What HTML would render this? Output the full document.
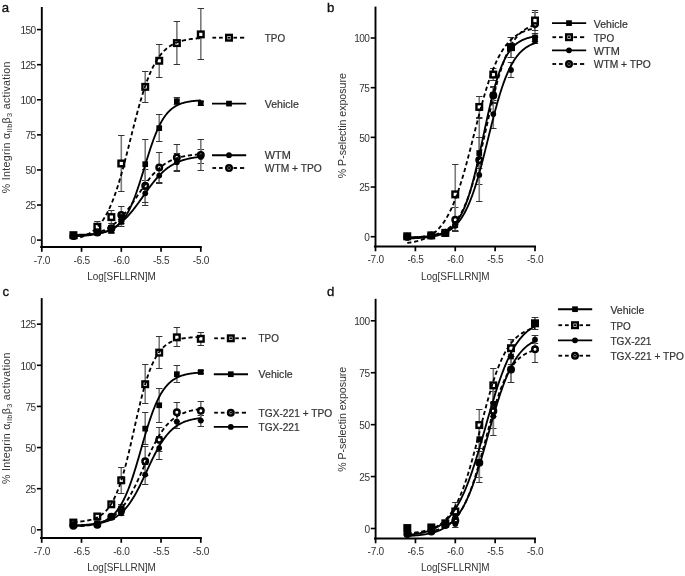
<!DOCTYPE html>
<html><head><meta charset="utf-8"><style>
html,body{margin:0;padding:0;background:#fff;}
svg{display:block;will-change:transform;}
text{font-family:"Liberation Sans", sans-serif;}
</style></head><body>
<svg width="685" height="576" viewBox="0 0 685 576">
<rect width="685" height="576" fill="#fff"/>
<line x1="41.8" y1="7" x2="41.8" y2="247.9" stroke="#000" stroke-width="1.9"/>
<line x1="40.2" y1="247" x2="201.8" y2="247" stroke="#000" stroke-width="1.9"/>
<line x1="37" y1="240.1" x2="41.8" y2="240.1" stroke="#000" stroke-width="1.6"/>
<text x="36.2" y="244.3" font-size="10.1" fill="#333333" text-anchor="end" textLength="5.62" lengthAdjust="spacing">0</text>
<line x1="37" y1="205.02" x2="41.8" y2="205.02" stroke="#000" stroke-width="1.6"/>
<text x="36.2" y="209.22" font-size="10.1" fill="#333333" text-anchor="end" textLength="10.63" lengthAdjust="spacing">25</text>
<line x1="37" y1="169.94" x2="41.8" y2="169.94" stroke="#000" stroke-width="1.6"/>
<text x="36.2" y="174.13" font-size="10.1" fill="#333333" text-anchor="end" textLength="10.63" lengthAdjust="spacing">50</text>
<line x1="37" y1="134.85" x2="41.8" y2="134.85" stroke="#000" stroke-width="1.6"/>
<text x="36.2" y="139.05" font-size="10.1" fill="#333333" text-anchor="end" textLength="10.63" lengthAdjust="spacing">75</text>
<line x1="37" y1="99.77" x2="41.8" y2="99.77" stroke="#000" stroke-width="1.6"/>
<text x="36.2" y="103.97" font-size="10.1" fill="#333333" text-anchor="end" textLength="15.65" lengthAdjust="spacing">100</text>
<line x1="37" y1="64.69" x2="41.8" y2="64.69" stroke="#000" stroke-width="1.6"/>
<text x="36.2" y="68.89" font-size="10.1" fill="#333333" text-anchor="end" textLength="15.65" lengthAdjust="spacing">125</text>
<line x1="37" y1="29.6" x2="41.8" y2="29.6" stroke="#000" stroke-width="1.6"/>
<text x="36.2" y="33.8" font-size="10.1" fill="#333333" text-anchor="end" textLength="15.65" lengthAdjust="spacing">150</text>
<line x1="41.8" y1="247" x2="41.8" y2="251.8" stroke="#000" stroke-width="1.7"/>
<text x="42.1" y="263.6" font-size="10.1" fill="#333333" text-anchor="middle" textLength="16.6" lengthAdjust="spacing">-7.0</text>
<line x1="81.55" y1="247" x2="81.55" y2="251.8" stroke="#000" stroke-width="1.7"/>
<text x="81.85" y="263.6" font-size="10.1" fill="#333333" text-anchor="middle" textLength="16.6" lengthAdjust="spacing">-6.5</text>
<line x1="121.3" y1="247" x2="121.3" y2="251.8" stroke="#000" stroke-width="1.7"/>
<text x="121.6" y="263.6" font-size="10.1" fill="#333333" text-anchor="middle" textLength="16.6" lengthAdjust="spacing">-6.0</text>
<line x1="161.05" y1="247" x2="161.05" y2="251.8" stroke="#000" stroke-width="1.7"/>
<text x="161.35" y="263.6" font-size="10.1" fill="#333333" text-anchor="middle" textLength="16.6" lengthAdjust="spacing">-5.5</text>
<line x1="200.8" y1="247" x2="200.8" y2="251.8" stroke="#000" stroke-width="1.7"/>
<text x="201.1" y="263.6" font-size="10.1" fill="#333333" text-anchor="middle" textLength="16.6" lengthAdjust="spacing">-5.0</text>
<text x="87.2" y="280.4" font-size="10.6" fill="#333333" textLength="68.6" lengthAdjust="spacingAndGlyphs">Log[SFLLRN]M</text>
<text transform="translate(10,193.2) rotate(-90)" font-size="10.6" fill="#333333" textLength="131.5" lengthAdjust="spacing">% Integrin α<tspan font-size="7.4" dy="2.4">IIb</tspan><tspan dy="-2.4">β</tspan><tspan font-size="7.4" dy="2.4">3</tspan><tspan dy="-2.4"> activation</tspan></text>
<text x="1.8" y="11.6" font-size="13.2" fill="#111" stroke="#111" stroke-width="0.35">a</text>
<line x1="73.44" y1="235.5" x2="73.44" y2="237.5" stroke="#7a7a7a" stroke-width="1.6"/>
<line x1="70.24" y1="235.5" x2="76.64" y2="235.5" stroke="#333" stroke-width="1.0"/>
<line x1="70.24" y1="237.5" x2="76.64" y2="237.5" stroke="#333" stroke-width="1.0"/>
<line x1="97.37" y1="231.5" x2="97.37" y2="234.5" stroke="#7a7a7a" stroke-width="1.6"/>
<line x1="94.17" y1="231.5" x2="100.57" y2="231.5" stroke="#333" stroke-width="1.0"/>
<line x1="94.17" y1="234.5" x2="100.57" y2="234.5" stroke="#333" stroke-width="1.0"/>
<line x1="111.37" y1="226.5" x2="111.37" y2="232.5" stroke="#7a7a7a" stroke-width="1.6"/>
<line x1="108.17" y1="226.5" x2="114.57" y2="226.5" stroke="#333" stroke-width="1.0"/>
<line x1="108.17" y1="232.5" x2="114.57" y2="232.5" stroke="#333" stroke-width="1.0"/>
<line x1="121.3" y1="212.5" x2="121.3" y2="221.5" stroke="#7a7a7a" stroke-width="1.6"/>
<line x1="118.1" y1="212.5" x2="124.5" y2="212.5" stroke="#333" stroke-width="1.0"/>
<line x1="118.1" y1="221.5" x2="124.5" y2="221.5" stroke="#333" stroke-width="1.0"/>
<line x1="145.23" y1="180.5" x2="145.23" y2="205.5" stroke="#7a7a7a" stroke-width="1.6"/>
<line x1="142.03" y1="180.5" x2="148.43" y2="180.5" stroke="#333" stroke-width="1.0"/>
<line x1="142.03" y1="205.5" x2="148.43" y2="205.5" stroke="#333" stroke-width="1.0"/>
<line x1="159.23" y1="167.5" x2="159.23" y2="183.5" stroke="#7a7a7a" stroke-width="1.6"/>
<line x1="156.03" y1="167.5" x2="162.43" y2="167.5" stroke="#333" stroke-width="1.0"/>
<line x1="156.03" y1="183.5" x2="162.43" y2="183.5" stroke="#333" stroke-width="1.0"/>
<line x1="176.87" y1="153.5" x2="176.87" y2="171.5" stroke="#7a7a7a" stroke-width="1.6"/>
<line x1="173.67" y1="153.5" x2="180.07" y2="153.5" stroke="#333" stroke-width="1.0"/>
<line x1="173.67" y1="171.5" x2="180.07" y2="171.5" stroke="#333" stroke-width="1.0"/>
<line x1="200.8" y1="149.5" x2="200.8" y2="163.5" stroke="#7a7a7a" stroke-width="1.6"/>
<line x1="197.6" y1="149.5" x2="204" y2="149.5" stroke="#333" stroke-width="1.0"/>
<line x1="197.6" y1="163.5" x2="204" y2="163.5" stroke="#333" stroke-width="1.0"/>
<line x1="73.44" y1="234.5" x2="73.44" y2="237.5" stroke="#7a7a7a" stroke-width="1.6"/>
<line x1="70.24" y1="234.5" x2="76.64" y2="234.5" stroke="#333" stroke-width="1.0"/>
<line x1="70.24" y1="237.5" x2="76.64" y2="237.5" stroke="#333" stroke-width="1.0"/>
<line x1="97.37" y1="230.5" x2="97.37" y2="233.5" stroke="#7a7a7a" stroke-width="1.6"/>
<line x1="94.17" y1="230.5" x2="100.57" y2="230.5" stroke="#333" stroke-width="1.0"/>
<line x1="94.17" y1="233.5" x2="100.57" y2="233.5" stroke="#333" stroke-width="1.0"/>
<line x1="111.37" y1="225.5" x2="111.37" y2="230.5" stroke="#7a7a7a" stroke-width="1.6"/>
<line x1="108.17" y1="225.5" x2="114.57" y2="225.5" stroke="#333" stroke-width="1.0"/>
<line x1="108.17" y1="230.5" x2="114.57" y2="230.5" stroke="#333" stroke-width="1.0"/>
<line x1="121.3" y1="206.5" x2="121.3" y2="223.5" stroke="#7a7a7a" stroke-width="1.6"/>
<line x1="118.1" y1="206.5" x2="124.5" y2="206.5" stroke="#333" stroke-width="1.0"/>
<line x1="118.1" y1="223.5" x2="124.5" y2="223.5" stroke="#333" stroke-width="1.0"/>
<line x1="145.23" y1="169.5" x2="145.23" y2="202.5" stroke="#7a7a7a" stroke-width="1.6"/>
<line x1="142.03" y1="169.5" x2="148.43" y2="169.5" stroke="#333" stroke-width="1.0"/>
<line x1="142.03" y1="202.5" x2="148.43" y2="202.5" stroke="#333" stroke-width="1.0"/>
<line x1="159.23" y1="152.5" x2="159.23" y2="182.5" stroke="#7a7a7a" stroke-width="1.6"/>
<line x1="156.03" y1="152.5" x2="162.43" y2="152.5" stroke="#333" stroke-width="1.0"/>
<line x1="156.03" y1="182.5" x2="162.43" y2="182.5" stroke="#333" stroke-width="1.0"/>
<line x1="176.87" y1="144.5" x2="176.87" y2="170.5" stroke="#7a7a7a" stroke-width="1.6"/>
<line x1="173.67" y1="144.5" x2="180.07" y2="144.5" stroke="#333" stroke-width="1.0"/>
<line x1="173.67" y1="170.5" x2="180.07" y2="170.5" stroke="#333" stroke-width="1.0"/>
<line x1="200.8" y1="139.5" x2="200.8" y2="170.5" stroke="#7a7a7a" stroke-width="1.6"/>
<line x1="197.6" y1="139.5" x2="204" y2="139.5" stroke="#333" stroke-width="1.0"/>
<line x1="197.6" y1="170.5" x2="204" y2="170.5" stroke="#333" stroke-width="1.0"/>
<line x1="73.44" y1="233.5" x2="73.44" y2="236.5" stroke="#7a7a7a" stroke-width="1.6"/>
<line x1="70.24" y1="233.5" x2="76.64" y2="233.5" stroke="#333" stroke-width="1.0"/>
<line x1="70.24" y1="236.5" x2="76.64" y2="236.5" stroke="#333" stroke-width="1.0"/>
<line x1="97.37" y1="231.5" x2="97.37" y2="234.5" stroke="#7a7a7a" stroke-width="1.6"/>
<line x1="94.17" y1="231.5" x2="100.57" y2="231.5" stroke="#333" stroke-width="1.0"/>
<line x1="94.17" y1="234.5" x2="100.57" y2="234.5" stroke="#333" stroke-width="1.0"/>
<line x1="111.37" y1="227.5" x2="111.37" y2="233.5" stroke="#7a7a7a" stroke-width="1.6"/>
<line x1="108.17" y1="227.5" x2="114.57" y2="227.5" stroke="#333" stroke-width="1.0"/>
<line x1="108.17" y1="233.5" x2="114.57" y2="233.5" stroke="#333" stroke-width="1.0"/>
<line x1="121.3" y1="217.5" x2="121.3" y2="226.5" stroke="#7a7a7a" stroke-width="1.6"/>
<line x1="118.1" y1="217.5" x2="124.5" y2="217.5" stroke="#333" stroke-width="1.0"/>
<line x1="118.1" y1="226.5" x2="124.5" y2="226.5" stroke="#333" stroke-width="1.0"/>
<line x1="145.23" y1="139.5" x2="145.23" y2="189.5" stroke="#7a7a7a" stroke-width="1.6"/>
<line x1="142.03" y1="139.5" x2="148.43" y2="139.5" stroke="#333" stroke-width="1.0"/>
<line x1="142.03" y1="189.5" x2="148.43" y2="189.5" stroke="#333" stroke-width="1.0"/>
<line x1="159.23" y1="114.5" x2="159.23" y2="141.5" stroke="#7a7a7a" stroke-width="1.6"/>
<line x1="156.03" y1="114.5" x2="162.43" y2="114.5" stroke="#333" stroke-width="1.0"/>
<line x1="156.03" y1="141.5" x2="162.43" y2="141.5" stroke="#333" stroke-width="1.0"/>
<line x1="176.87" y1="97.5" x2="176.87" y2="104.5" stroke="#7a7a7a" stroke-width="1.6"/>
<line x1="173.67" y1="97.5" x2="180.07" y2="97.5" stroke="#333" stroke-width="1.0"/>
<line x1="173.67" y1="104.5" x2="180.07" y2="104.5" stroke="#333" stroke-width="1.0"/>
<line x1="200.8" y1="101.5" x2="200.8" y2="105.5" stroke="#7a7a7a" stroke-width="1.6"/>
<line x1="197.6" y1="101.5" x2="204" y2="101.5" stroke="#333" stroke-width="1.0"/>
<line x1="197.6" y1="105.5" x2="204" y2="105.5" stroke="#333" stroke-width="1.0"/>
<line x1="73.44" y1="232.5" x2="73.44" y2="237.5" stroke="#7a7a7a" stroke-width="1.6"/>
<line x1="70.24" y1="232.5" x2="76.64" y2="232.5" stroke="#333" stroke-width="1.0"/>
<line x1="70.24" y1="237.5" x2="76.64" y2="237.5" stroke="#333" stroke-width="1.0"/>
<line x1="97.37" y1="221.5" x2="97.37" y2="232.5" stroke="#7a7a7a" stroke-width="1.6"/>
<line x1="94.17" y1="221.5" x2="100.57" y2="221.5" stroke="#333" stroke-width="1.0"/>
<line x1="94.17" y1="232.5" x2="100.57" y2="232.5" stroke="#333" stroke-width="1.0"/>
<line x1="111.37" y1="210.5" x2="111.37" y2="223.5" stroke="#7a7a7a" stroke-width="1.6"/>
<line x1="108.17" y1="210.5" x2="114.57" y2="210.5" stroke="#333" stroke-width="1.0"/>
<line x1="108.17" y1="223.5" x2="114.57" y2="223.5" stroke="#333" stroke-width="1.0"/>
<line x1="121.3" y1="135.5" x2="121.3" y2="191.5" stroke="#7a7a7a" stroke-width="1.6"/>
<line x1="118.1" y1="135.5" x2="124.5" y2="135.5" stroke="#333" stroke-width="1.0"/>
<line x1="118.1" y1="191.5" x2="124.5" y2="191.5" stroke="#333" stroke-width="1.0"/>
<line x1="145.23" y1="71.5" x2="145.23" y2="102.5" stroke="#7a7a7a" stroke-width="1.6"/>
<line x1="142.03" y1="71.5" x2="148.43" y2="71.5" stroke="#333" stroke-width="1.0"/>
<line x1="142.03" y1="102.5" x2="148.43" y2="102.5" stroke="#333" stroke-width="1.0"/>
<line x1="159.23" y1="44.5" x2="159.23" y2="77.5" stroke="#7a7a7a" stroke-width="1.6"/>
<line x1="156.03" y1="44.5" x2="162.43" y2="44.5" stroke="#333" stroke-width="1.0"/>
<line x1="156.03" y1="77.5" x2="162.43" y2="77.5" stroke="#333" stroke-width="1.0"/>
<line x1="176.87" y1="21.5" x2="176.87" y2="64.5" stroke="#7a7a7a" stroke-width="1.6"/>
<line x1="173.67" y1="21.5" x2="180.07" y2="21.5" stroke="#333" stroke-width="1.0"/>
<line x1="173.67" y1="64.5" x2="180.07" y2="64.5" stroke="#333" stroke-width="1.0"/>
<line x1="200.8" y1="8.5" x2="200.8" y2="59.5" stroke="#7a7a7a" stroke-width="1.6"/>
<line x1="197.6" y1="8.5" x2="204" y2="8.5" stroke="#333" stroke-width="1.0"/>
<line x1="197.6" y1="59.5" x2="204" y2="59.5" stroke="#333" stroke-width="1.0"/>
<circle cx="73.44" cy="235.89" r="2.75" fill="#fff" stroke="#000" stroke-width="2.5"/>
<circle cx="97.37" cy="232.38" r="2.75" fill="#fff" stroke="#000" stroke-width="2.5"/>
<circle cx="111.37" cy="228.17" r="2.75" fill="#fff" stroke="#000" stroke-width="2.5"/>
<circle cx="121.3" cy="215.12" r="2.75" fill="#fff" stroke="#000" stroke-width="2.5"/>
<circle cx="145.23" cy="185.65" r="2.75" fill="#fff" stroke="#000" stroke-width="2.5"/>
<circle cx="159.23" cy="167.55" r="2.75" fill="#fff" stroke="#000" stroke-width="2.5"/>
<circle cx="176.87" cy="157.45" r="2.75" fill="#fff" stroke="#000" stroke-width="2.5"/>
<circle cx="200.8" cy="154.92" r="2.75" fill="#fff" stroke="#000" stroke-width="2.5"/>
<rect x="70.64" y="232.39" width="5.6" height="5.6" fill="#fff" stroke="#000" stroke-width="2.4"/>
<rect x="94.57" y="223.97" width="5.6" height="5.6" fill="#fff" stroke="#000" stroke-width="2.4"/>
<rect x="108.57" y="214.29" width="5.6" height="5.6" fill="#fff" stroke="#000" stroke-width="2.4"/>
<rect x="118.5" y="160.68" width="5.6" height="5.6" fill="#fff" stroke="#000" stroke-width="2.4"/>
<rect x="142.43" y="84.06" width="5.6" height="5.6" fill="#fff" stroke="#000" stroke-width="2.4"/>
<rect x="156.43" y="57.96" width="5.6" height="5.6" fill="#fff" stroke="#000" stroke-width="2.4"/>
<rect x="174.07" y="40.28" width="5.6" height="5.6" fill="#fff" stroke="#000" stroke-width="2.4"/>
<rect x="198" y="31.58" width="5.6" height="5.6" fill="#fff" stroke="#000" stroke-width="2.4"/>
<circle cx="73.44" cy="236.59" r="2.9" fill="#000"/>
<circle cx="97.37" cy="233.22" r="2.9" fill="#000"/>
<circle cx="111.37" cy="229.72" r="2.9" fill="#000"/>
<circle cx="121.3" cy="216.95" r="2.9" fill="#000"/>
<circle cx="145.23" cy="193.37" r="2.9" fill="#000"/>
<circle cx="159.23" cy="175.55" r="2.9" fill="#000"/>
<circle cx="176.87" cy="162.36" r="2.9" fill="#000"/>
<circle cx="200.8" cy="156.88" r="2.9" fill="#000"/>
<rect x="70.59" y="232.34" width="5.7" height="5.7" fill="#000"/>
<rect x="94.52" y="230.23" width="5.7" height="5.7" fill="#000"/>
<rect x="108.52" y="227.43" width="5.7" height="5.7" fill="#000"/>
<rect x="118.45" y="219.01" width="5.7" height="5.7" fill="#000"/>
<rect x="142.38" y="161.33" width="5.7" height="5.7" fill="#000"/>
<rect x="156.38" y="125.27" width="5.7" height="5.7" fill="#000"/>
<rect x="174.02" y="98.32" width="5.7" height="5.7" fill="#000"/>
<rect x="197.95" y="100.29" width="5.7" height="5.7" fill="#000"/>
<polyline points="73.44,236.42 74.08,236.39 74.72,236.36 75.36,236.32 76,236.29 76.64,236.26 77.28,236.22 77.92,236.18 78.56,236.14 79.2,236.1 79.84,236.06 80.48,236.01 81.12,235.97 81.76,235.92 82.4,235.87 83.04,235.81 83.68,235.76 84.32,235.7 84.96,235.64 85.6,235.58 86.24,235.51 86.88,235.44 87.52,235.37 88.16,235.29 88.8,235.22 89.44,235.13 90.08,235.05 90.72,234.96 91.36,234.87 92,234.77 92.64,234.67 93.28,234.56 93.92,234.45 94.56,234.34 95.2,234.22 95.84,234.1 96.48,233.97 97.12,233.83 97.76,233.69 98.4,233.55 99.04,233.39 99.68,233.24 100.32,233.07 100.96,232.9 101.6,232.72 102.24,232.53 102.88,232.34 103.52,232.14 104.16,231.93 104.8,231.71 105.44,231.49 106.08,231.25 106.72,231.01 107.36,230.75 108,230.49 108.64,230.22 109.28,229.93 109.92,229.64 110.56,229.34 111.2,229.02 111.84,228.69 112.48,228.35 113.12,228 113.76,227.64 114.4,227.26 115.04,226.87 115.68,226.47 116.32,226.05 116.96,225.63 117.6,225.18 118.24,224.72 118.88,224.25 119.52,223.77 120.16,223.26 120.8,222.75 121.44,222.22 122.08,221.67 122.72,221.11 123.36,220.53 124,219.94 124.64,219.33 125.28,218.71 125.92,218.07 126.56,217.41 127.2,216.74 127.84,216.06 128.48,215.36 129.12,214.64 129.76,213.92 130.4,213.17 131.04,212.42 131.68,211.65 132.32,210.86 132.96,210.07 133.6,209.26 134.24,208.44 134.88,207.61 135.52,206.77 136.16,205.92 136.8,205.06 137.44,204.19 138.08,203.31 138.72,202.43 139.36,201.54 140,200.65 140.64,199.75 141.28,198.85 141.92,197.95 142.56,197.04 143.2,196.13 143.84,195.23 144.48,194.32 145.12,193.42 145.76,192.52 146.4,191.62 147.04,190.73 147.68,189.84 148.32,188.96 148.96,188.08 149.6,187.21 150.24,186.36 150.88,185.51 151.52,184.67 152.16,183.84 152.8,183.02 153.44,182.21 154.08,181.42 154.72,180.64 155.36,179.87 156,179.11 156.64,178.37 157.28,177.64 157.92,176.93 158.56,176.23 159.2,175.55 159.84,174.88 160.48,174.23 161.12,173.59 161.76,172.97 162.4,172.36 163.04,171.77 163.68,171.2 164.32,170.63 164.96,170.09 165.6,169.56 166.24,169.05 166.88,168.55 167.52,168.06 168.16,167.59 168.8,167.14 169.44,166.69 170.08,166.27 170.72,165.85 171.36,165.45 172,165.06 172.64,164.69 173.28,164.33 173.92,163.98 174.56,163.64 175.2,163.31 175.84,163 176.48,162.69 177.12,162.4 177.76,162.12 178.4,161.85 179.04,161.58 179.68,161.33 180.32,161.09 180.96,160.86 181.6,160.63 182.24,160.41 182.88,160.21 183.52,160 184.16,159.81 184.8,159.63 185.44,159.45 186.08,159.28 186.72,159.11 187.36,158.96 188,158.8 188.64,158.66 189.28,158.52 189.92,158.38 190.56,158.26 191.2,158.13 191.84,158.01 192.48,157.9 193.12,157.79 193.76,157.69 194.4,157.59 195.04,157.49 195.68,157.4 196.32,157.31 196.96,157.22 197.6,157.14 198.24,157.06 198.88,156.99 199.52,156.92 200.16,156.85 200.8,156.78" fill="none" stroke="#000" stroke-width="1.85"/>
<polyline points="73.44,236.14 74.08,236.11 74.72,236.07 75.36,236.02 76,235.98 76.64,235.94 77.28,235.89 77.92,235.84 78.56,235.79 79.2,235.73 79.84,235.67 80.48,235.61 81.12,235.55 81.76,235.49 82.4,235.42 83.04,235.35 83.68,235.27 84.32,235.19 84.96,235.11 85.6,235.03 86.24,234.94 86.88,234.85 87.52,234.75 88.16,234.65 88.8,234.54 89.44,234.43 90.08,234.32 90.72,234.2 91.36,234.07 92,233.94 92.64,233.8 93.28,233.66 93.92,233.51 94.56,233.36 95.2,233.2 95.84,233.03 96.48,232.85 97.12,232.67 97.76,232.48 98.4,232.28 99.04,232.07 99.68,231.86 100.32,231.63 100.96,231.4 101.6,231.16 102.24,230.91 102.88,230.64 103.52,230.37 104.16,230.09 104.8,229.79 105.44,229.48 106.08,229.17 106.72,228.84 107.36,228.49 108,228.14 108.64,227.77 109.28,227.39 109.92,226.99 110.56,226.58 111.2,226.16 111.84,225.72 112.48,225.27 113.12,224.8 113.76,224.31 114.4,223.81 115.04,223.3 115.68,222.77 116.32,222.22 116.96,221.65 117.6,221.07 118.24,220.47 118.88,219.86 119.52,219.23 120.16,218.58 120.8,217.91 121.44,217.23 122.08,216.53 122.72,215.81 123.36,215.08 124,214.33 124.64,213.57 125.28,212.79 125.92,211.99 126.56,211.18 127.2,210.36 127.84,209.52 128.48,208.67 129.12,207.81 129.76,206.93 130.4,206.04 131.04,205.14 131.68,204.24 132.32,203.32 132.96,202.39 133.6,201.46 134.24,200.52 134.88,199.58 135.52,198.63 136.16,197.67 136.8,196.72 137.44,195.76 138.08,194.8 138.72,193.85 139.36,192.89 140,191.94 140.64,190.99 141.28,190.04 141.92,189.1 142.56,188.16 143.2,187.24 143.84,186.32 144.48,185.41 145.12,184.51 145.76,183.62 146.4,182.74 147.04,181.87 147.68,181.01 148.32,180.17 148.96,179.34 149.6,178.53 150.24,177.73 150.88,176.95 151.52,176.18 152.16,175.43 152.8,174.69 153.44,173.97 154.08,173.27 154.72,172.58 155.36,171.91 156,171.25 156.64,170.62 157.28,170 157.92,169.4 158.56,168.81 159.2,168.24 159.84,167.69 160.48,167.15 161.12,166.63 161.76,166.13 162.4,165.64 163.04,165.16 163.68,164.71 164.32,164.26 164.96,163.84 165.6,163.42 166.24,163.02 166.88,162.64 167.52,162.27 168.16,161.91 168.8,161.56 169.44,161.23 170.08,160.91 170.72,160.6 171.36,160.3 172,160.01 172.64,159.74 173.28,159.47 173.92,159.22 174.56,158.97 175.2,158.73 175.84,158.51 176.48,158.29 177.12,158.08 177.76,157.88 178.4,157.69 179.04,157.5 179.68,157.32 180.32,157.15 180.96,156.99 181.6,156.83 182.24,156.68 182.88,156.54 183.52,156.4 184.16,156.27 184.8,156.14 185.44,156.02 186.08,155.9 186.72,155.79 187.36,155.69 188,155.58 188.64,155.49 189.28,155.39 189.92,155.3 190.56,155.22 191.2,155.13 191.84,155.05 192.48,154.98 193.12,154.91 193.76,154.84 194.4,154.77 195.04,154.71 195.68,154.65 196.32,154.59 196.96,154.54 197.6,154.48 198.24,154.43 198.88,154.38 199.52,154.34 200.16,154.29 200.8,154.25" fill="none" stroke="#000" stroke-width="1.85" stroke-dasharray="4.2 2.8"/>
<polyline points="73.44,234.89 74.08,234.88 74.72,234.87 75.36,234.86 76,234.85 76.64,234.84 77.28,234.83 77.92,234.81 78.56,234.8 79.2,234.78 79.84,234.77 80.48,234.75 81.12,234.73 81.76,234.72 82.4,234.7 83.04,234.67 83.68,234.65 84.32,234.63 84.96,234.6 85.6,234.58 86.24,234.55 86.88,234.52 87.52,234.48 88.16,234.45 88.8,234.41 89.44,234.37 90.08,234.33 90.72,234.29 91.36,234.24 92,234.19 92.64,234.14 93.28,234.08 93.92,234.02 94.56,233.96 95.2,233.89 95.84,233.82 96.48,233.74 97.12,233.66 97.76,233.57 98.4,233.48 99.04,233.38 99.68,233.28 100.32,233.17 100.96,233.05 101.6,232.93 102.24,232.8 102.88,232.66 103.52,232.51 104.16,232.35 104.8,232.18 105.44,232.01 106.08,231.82 106.72,231.62 107.36,231.41 108,231.18 108.64,230.94 109.28,230.69 109.92,230.42 110.56,230.14 111.2,229.84 111.84,229.52 112.48,229.18 113.12,228.83 113.76,228.45 114.4,228.05 115.04,227.63 115.68,227.18 116.32,226.71 116.96,226.21 117.6,225.69 118.24,225.14 118.88,224.55 119.52,223.94 120.16,223.29 120.8,222.61 121.44,221.89 122.08,221.14 122.72,220.35 123.36,219.52 124,218.64 124.64,217.73 125.28,216.77 125.92,215.77 126.56,214.73 127.2,213.64 127.84,212.5 128.48,211.31 129.12,210.07 129.76,208.79 130.4,207.45 131.04,206.06 131.68,204.63 132.32,203.14 132.96,201.61 133.6,200.03 134.24,198.39 134.88,196.72 135.52,194.99 136.16,193.22 136.8,191.41 137.44,189.56 138.08,187.67 138.72,185.75 139.36,183.79 140,181.81 140.64,179.79 141.28,177.76 141.92,175.7 142.56,173.63 143.2,171.55 143.84,169.46 144.48,167.37 145.12,165.27 145.76,163.18 146.4,161.1 147.04,159.03 147.68,156.98 148.32,154.94 148.96,152.93 149.6,150.95 150.24,148.99 150.88,147.07 151.52,145.18 152.16,143.34 152.8,141.53 153.44,139.76 154.08,138.04 154.72,136.36 155.36,134.74 156,133.16 156.64,131.62 157.28,130.14 157.92,128.71 158.56,127.33 159.2,126 159.84,124.71 160.48,123.48 161.12,122.29 161.76,121.16 162.4,120.07 163.04,119.02 163.68,118.03 164.32,117.07 164.96,116.16 165.6,115.29 166.24,114.47 166.88,113.68 167.52,112.92 168.16,112.21 168.8,111.53 169.44,110.89 170.08,110.27 170.72,109.69 171.36,109.14 172,108.62 172.64,108.12 173.28,107.65 173.92,107.21 174.56,106.79 175.2,106.39 175.84,106.02 176.48,105.66 177.12,105.32 177.76,105.01 178.4,104.71 179.04,104.43 179.68,104.16 180.32,103.91 180.96,103.67 181.6,103.44 182.24,103.23 182.88,103.03 183.52,102.85 184.16,102.67 184.8,102.5 185.44,102.35 186.08,102.2 186.72,102.06 187.36,101.93 188,101.8 188.64,101.69 189.28,101.58 189.92,101.47 190.56,101.38 191.2,101.28 191.84,101.2 192.48,101.12 193.12,101.04 193.76,100.97 194.4,100.9 195.04,100.84 195.68,100.78 196.32,100.72 196.96,100.67 197.6,100.62 198.24,100.57 198.88,100.53 199.52,100.49 200.16,100.45 200.8,100.41" fill="none" stroke="#000" stroke-width="1.85"/>
<polyline points="73.44,238.9 74.08,238.78 74.72,238.66 75.36,238.53 76,238.4 76.64,238.25 77.28,238.11 77.92,237.95 78.56,237.78 79.2,237.61 79.84,237.43 80.48,237.24 81.12,237.04 81.76,236.83 82.4,236.61 83.04,236.38 83.68,236.14 84.32,235.89 84.96,235.62 85.6,235.35 86.24,235.05 86.88,234.75 87.52,234.43 88.16,234.09 88.8,233.74 89.44,233.37 90.08,232.98 90.72,232.58 91.36,232.15 92,231.71 92.64,231.24 93.28,230.76 93.92,230.25 94.56,229.72 95.2,229.16 95.84,228.58 96.48,227.97 97.12,227.34 97.76,226.67 98.4,225.98 99.04,225.26 99.68,224.5 100.32,223.72 100.96,222.9 101.6,222.04 102.24,221.15 102.88,220.23 103.52,219.26 104.16,218.26 104.8,217.22 105.44,216.13 106.08,215.01 106.72,213.84 107.36,212.63 108,211.37 108.64,210.07 109.28,208.72 109.92,207.32 110.56,205.88 111.2,204.39 111.84,202.85 112.48,201.26 113.12,199.62 113.76,197.93 114.4,196.19 115.04,194.41 115.68,192.57 116.32,190.69 116.96,188.75 117.6,186.77 118.24,184.74 118.88,182.67 119.52,180.55 120.16,178.39 120.8,176.18 121.44,173.93 122.08,171.65 122.72,169.33 123.36,166.97 124,164.59 124.64,162.17 125.28,159.72 125.92,157.25 126.56,154.76 127.2,152.25 127.84,149.72 128.48,147.18 129.12,144.63 129.76,142.07 130.4,139.51 131.04,136.95 131.68,134.39 132.32,131.84 132.96,129.29 133.6,126.76 134.24,124.25 134.88,121.75 135.52,119.28 136.16,116.82 136.8,114.4 137.44,112.01 138.08,109.64 138.72,107.32 139.36,105.02 140,102.77 140.64,100.56 141.28,98.39 141.92,96.26 142.56,94.17 143.2,92.14 143.84,90.15 144.48,88.2 145.12,86.31 145.76,84.46 146.4,82.66 147.04,80.92 147.68,79.22 148.32,77.57 148.96,75.97 149.6,74.42 150.24,72.92 150.88,71.47 151.52,70.06 152.16,68.7 152.8,67.39 153.44,66.13 154.08,64.91 154.72,63.73 155.36,62.59 156,61.5 156.64,60.45 157.28,59.44 157.92,58.47 158.56,57.53 159.2,56.64 159.84,55.78 160.48,54.95 161.12,54.16 161.76,53.4 162.4,52.67 163.04,51.97 163.68,51.3 164.32,50.66 164.96,50.05 165.6,49.46 166.24,48.9 166.88,48.36 167.52,47.85 168.16,47.36 168.8,46.89 169.44,46.44 170.08,46.01 170.72,45.6 171.36,45.21 172,44.84 172.64,44.49 173.28,44.15 173.92,43.82 174.56,43.51 175.2,43.22 175.84,42.94 176.48,42.67 177.12,42.41 177.76,42.17 178.4,41.94 179.04,41.72 179.68,41.5 180.32,41.3 180.96,41.11 181.6,40.93 182.24,40.76 182.88,40.59 183.52,40.43 184.16,40.28 184.8,40.14 185.44,40 186.08,39.87 186.72,39.75 187.36,39.63 188,39.52 188.64,39.41 189.28,39.31 189.92,39.21 190.56,39.12 191.2,39.03 191.84,38.95 192.48,38.87 193.12,38.8 193.76,38.72 194.4,38.66 195.04,38.59 195.68,38.53 196.32,38.47 196.96,38.41 197.6,38.36 198.24,38.31 198.88,38.26 199.52,38.22 200.16,38.17 200.8,38.13" fill="none" stroke="#000" stroke-width="1.85" stroke-dasharray="4.2 2.8"/>
<circle cx="229" cy="155.2" r="2.9" fill="#000"/>
<line x1="212" y1="155.2" x2="246.2" y2="155.2" stroke="#000" stroke-width="1.85"/>
<text x="264.8" y="159.3" font-size="10.5" fill="#333333" textLength="26" lengthAdjust="spacingAndGlyphs" stroke="#333" stroke-width="0.2">WTM</text>
<circle cx="229" cy="168" r="2.75" fill="#fff" stroke="#000" stroke-width="2.5"/>
<line x1="212.4" y1="168" x2="216.1" y2="168" stroke="#000" stroke-width="1.85"/>
<line x1="219" y1="168" x2="222.7" y2="168" stroke="#000" stroke-width="1.85"/>
<line x1="227.8" y1="168" x2="230.2" y2="168" stroke="#000" stroke-width="1.85"/>
<line x1="233.4" y1="168" x2="237" y2="168" stroke="#000" stroke-width="1.85"/>
<line x1="240" y1="168" x2="244.2" y2="168" stroke="#000" stroke-width="1.85"/>
<text x="264.8" y="172.1" font-size="10.5" fill="#333333" textLength="57" lengthAdjust="spacingAndGlyphs" stroke="#333" stroke-width="0.2">WTM + TPO</text>
<rect x="226.15" y="100.75" width="5.7" height="5.7" fill="#000"/>
<line x1="212" y1="103.6" x2="246.2" y2="103.6" stroke="#000" stroke-width="1.85"/>
<text x="264.8" y="107.7" font-size="10.5" fill="#333333" textLength="34" lengthAdjust="spacingAndGlyphs" stroke="#333" stroke-width="0.2">Vehicle</text>
<rect x="226.2" y="34.9" width="5.6" height="5.6" fill="#fff" stroke="#000" stroke-width="2.4"/>
<line x1="212.4" y1="37.7" x2="216.1" y2="37.7" stroke="#000" stroke-width="1.85"/>
<line x1="219" y1="37.7" x2="222.7" y2="37.7" stroke="#000" stroke-width="1.85"/>
<line x1="227.8" y1="37.7" x2="230.2" y2="37.7" stroke="#000" stroke-width="1.85"/>
<line x1="233.4" y1="37.7" x2="237" y2="37.7" stroke="#000" stroke-width="1.85"/>
<line x1="240" y1="37.7" x2="244.2" y2="37.7" stroke="#000" stroke-width="1.85"/>
<text x="264.8" y="41.8" font-size="10.5" fill="#333333" textLength="20.3" lengthAdjust="spacingAndGlyphs" stroke="#333" stroke-width="0.2">TPO</text>
<line x1="375.5" y1="6.6" x2="375.5" y2="247.4" stroke="#000" stroke-width="1.9"/>
<line x1="373.9" y1="246.5" x2="536" y2="246.5" stroke="#000" stroke-width="1.9"/>
<line x1="370.7" y1="236.7" x2="375.5" y2="236.7" stroke="#000" stroke-width="1.6"/>
<text x="369.9" y="240.9" font-size="10.1" fill="#333333" text-anchor="end" textLength="5.62" lengthAdjust="spacing">0</text>
<line x1="370.7" y1="187.02" x2="375.5" y2="187.02" stroke="#000" stroke-width="1.6"/>
<text x="369.9" y="191.22" font-size="10.1" fill="#333333" text-anchor="end" textLength="10.63" lengthAdjust="spacing">25</text>
<line x1="370.7" y1="137.35" x2="375.5" y2="137.35" stroke="#000" stroke-width="1.6"/>
<text x="369.9" y="141.55" font-size="10.1" fill="#333333" text-anchor="end" textLength="10.63" lengthAdjust="spacing">50</text>
<line x1="370.7" y1="87.67" x2="375.5" y2="87.67" stroke="#000" stroke-width="1.6"/>
<text x="369.9" y="91.87" font-size="10.1" fill="#333333" text-anchor="end" textLength="10.63" lengthAdjust="spacing">75</text>
<line x1="370.7" y1="38" x2="375.5" y2="38" stroke="#000" stroke-width="1.6"/>
<text x="369.9" y="42.2" font-size="10.1" fill="#333333" text-anchor="end" textLength="15.65" lengthAdjust="spacing">100</text>
<line x1="375.5" y1="246.5" x2="375.5" y2="251.3" stroke="#000" stroke-width="1.7"/>
<text x="375.8" y="263.1" font-size="10.1" fill="#333333" text-anchor="middle" textLength="16.6" lengthAdjust="spacing">-7.0</text>
<line x1="415.38" y1="246.5" x2="415.38" y2="251.3" stroke="#000" stroke-width="1.7"/>
<text x="415.68" y="263.1" font-size="10.1" fill="#333333" text-anchor="middle" textLength="16.6" lengthAdjust="spacing">-6.5</text>
<line x1="455.25" y1="246.5" x2="455.25" y2="251.3" stroke="#000" stroke-width="1.7"/>
<text x="455.55" y="263.1" font-size="10.1" fill="#333333" text-anchor="middle" textLength="16.6" lengthAdjust="spacing">-6.0</text>
<line x1="495.12" y1="246.5" x2="495.12" y2="251.3" stroke="#000" stroke-width="1.7"/>
<text x="495.43" y="263.1" font-size="10.1" fill="#333333" text-anchor="middle" textLength="16.6" lengthAdjust="spacing">-5.5</text>
<line x1="535" y1="246.5" x2="535" y2="251.3" stroke="#000" stroke-width="1.7"/>
<text x="535.3" y="263.1" font-size="10.1" fill="#333333" text-anchor="middle" textLength="16.6" lengthAdjust="spacing">-5.0</text>
<text x="421" y="280.2" font-size="10.6" fill="#333333" textLength="68.6" lengthAdjust="spacingAndGlyphs">Log[SFLLRN]M</text>
<text transform="translate(346.3,178.2) rotate(-90)" font-size="10.6" fill="#333333" textLength="105" lengthAdjust="spacing">% P-selectin exposure</text>
<text x="327" y="12" font-size="13.2" fill="#111" stroke="#111" stroke-width="0.35">b</text>
<line x1="407.24" y1="236.5" x2="407.24" y2="238.5" stroke="#7a7a7a" stroke-width="1.6"/>
<line x1="404.04" y1="236.5" x2="410.44" y2="236.5" stroke="#333" stroke-width="1.0"/>
<line x1="404.04" y1="238.5" x2="410.44" y2="238.5" stroke="#333" stroke-width="1.0"/>
<line x1="431.24" y1="235.5" x2="431.24" y2="237.5" stroke="#7a7a7a" stroke-width="1.6"/>
<line x1="428.04" y1="235.5" x2="434.44" y2="235.5" stroke="#333" stroke-width="1.0"/>
<line x1="428.04" y1="237.5" x2="434.44" y2="237.5" stroke="#333" stroke-width="1.0"/>
<line x1="445.29" y1="231.5" x2="445.29" y2="235.5" stroke="#7a7a7a" stroke-width="1.6"/>
<line x1="442.09" y1="231.5" x2="448.49" y2="231.5" stroke="#333" stroke-width="1.0"/>
<line x1="442.09" y1="235.5" x2="448.49" y2="235.5" stroke="#333" stroke-width="1.0"/>
<line x1="455.25" y1="219.5" x2="455.25" y2="231.5" stroke="#7a7a7a" stroke-width="1.6"/>
<line x1="452.05" y1="219.5" x2="458.45" y2="219.5" stroke="#333" stroke-width="1.0"/>
<line x1="452.05" y1="231.5" x2="458.45" y2="231.5" stroke="#333" stroke-width="1.0"/>
<line x1="479.26" y1="164.5" x2="479.26" y2="184.5" stroke="#7a7a7a" stroke-width="1.6"/>
<line x1="476.06" y1="164.5" x2="482.46" y2="164.5" stroke="#333" stroke-width="1.0"/>
<line x1="476.06" y1="184.5" x2="482.46" y2="184.5" stroke="#333" stroke-width="1.0"/>
<line x1="493.3" y1="100.5" x2="493.3" y2="128.5" stroke="#7a7a7a" stroke-width="1.6"/>
<line x1="490.1" y1="100.5" x2="496.5" y2="100.5" stroke="#333" stroke-width="1.0"/>
<line x1="490.1" y1="128.5" x2="496.5" y2="128.5" stroke="#333" stroke-width="1.0"/>
<line x1="510.99" y1="62.5" x2="510.99" y2="77.5" stroke="#7a7a7a" stroke-width="1.6"/>
<line x1="507.79" y1="62.5" x2="514.19" y2="62.5" stroke="#333" stroke-width="1.0"/>
<line x1="507.79" y1="77.5" x2="514.19" y2="77.5" stroke="#333" stroke-width="1.0"/>
<line x1="535" y1="37.5" x2="535" y2="43.5" stroke="#7a7a7a" stroke-width="1.6"/>
<line x1="531.8" y1="37.5" x2="538.2" y2="37.5" stroke="#333" stroke-width="1.0"/>
<line x1="531.8" y1="43.5" x2="538.2" y2="43.5" stroke="#333" stroke-width="1.0"/>
<line x1="407.24" y1="235.5" x2="407.24" y2="237.5" stroke="#7a7a7a" stroke-width="1.6"/>
<line x1="404.04" y1="235.5" x2="410.44" y2="235.5" stroke="#333" stroke-width="1.0"/>
<line x1="404.04" y1="237.5" x2="410.44" y2="237.5" stroke="#333" stroke-width="1.0"/>
<line x1="431.24" y1="234.5" x2="431.24" y2="236.5" stroke="#7a7a7a" stroke-width="1.6"/>
<line x1="428.04" y1="234.5" x2="434.44" y2="234.5" stroke="#333" stroke-width="1.0"/>
<line x1="428.04" y1="236.5" x2="434.44" y2="236.5" stroke="#333" stroke-width="1.0"/>
<line x1="445.29" y1="230.5" x2="445.29" y2="234.5" stroke="#7a7a7a" stroke-width="1.6"/>
<line x1="442.09" y1="230.5" x2="448.49" y2="230.5" stroke="#333" stroke-width="1.0"/>
<line x1="442.09" y1="234.5" x2="448.49" y2="234.5" stroke="#333" stroke-width="1.0"/>
<line x1="455.25" y1="207.5" x2="455.25" y2="231.5" stroke="#7a7a7a" stroke-width="1.6"/>
<line x1="452.05" y1="207.5" x2="458.45" y2="207.5" stroke="#333" stroke-width="1.0"/>
<line x1="452.05" y1="231.5" x2="458.45" y2="231.5" stroke="#333" stroke-width="1.0"/>
<line x1="479.26" y1="118.5" x2="479.26" y2="201.5" stroke="#7a7a7a" stroke-width="1.6"/>
<line x1="476.06" y1="118.5" x2="482.46" y2="118.5" stroke="#333" stroke-width="1.0"/>
<line x1="476.06" y1="201.5" x2="482.46" y2="201.5" stroke="#333" stroke-width="1.0"/>
<line x1="493.3" y1="87.5" x2="493.3" y2="103.5" stroke="#7a7a7a" stroke-width="1.6"/>
<line x1="490.1" y1="87.5" x2="496.5" y2="87.5" stroke="#333" stroke-width="1.0"/>
<line x1="490.1" y1="103.5" x2="496.5" y2="103.5" stroke="#333" stroke-width="1.0"/>
<line x1="510.99" y1="37.5" x2="510.99" y2="57.5" stroke="#7a7a7a" stroke-width="1.6"/>
<line x1="507.79" y1="37.5" x2="514.19" y2="37.5" stroke="#333" stroke-width="1.0"/>
<line x1="507.79" y1="57.5" x2="514.19" y2="57.5" stroke="#333" stroke-width="1.0"/>
<line x1="535" y1="12.5" x2="535" y2="36.5" stroke="#7a7a7a" stroke-width="1.6"/>
<line x1="531.8" y1="12.5" x2="538.2" y2="12.5" stroke="#333" stroke-width="1.0"/>
<line x1="531.8" y1="36.5" x2="538.2" y2="36.5" stroke="#333" stroke-width="1.0"/>
<line x1="407.24" y1="235.5" x2="407.24" y2="237.5" stroke="#7a7a7a" stroke-width="1.6"/>
<line x1="404.04" y1="235.5" x2="410.44" y2="235.5" stroke="#333" stroke-width="1.0"/>
<line x1="404.04" y1="237.5" x2="410.44" y2="237.5" stroke="#333" stroke-width="1.0"/>
<line x1="431.24" y1="234.5" x2="431.24" y2="236.5" stroke="#7a7a7a" stroke-width="1.6"/>
<line x1="428.04" y1="234.5" x2="434.44" y2="234.5" stroke="#333" stroke-width="1.0"/>
<line x1="428.04" y1="236.5" x2="434.44" y2="236.5" stroke="#333" stroke-width="1.0"/>
<line x1="445.29" y1="230.5" x2="445.29" y2="234.5" stroke="#7a7a7a" stroke-width="1.6"/>
<line x1="442.09" y1="230.5" x2="448.49" y2="230.5" stroke="#333" stroke-width="1.0"/>
<line x1="442.09" y1="234.5" x2="448.49" y2="234.5" stroke="#333" stroke-width="1.0"/>
<line x1="455.25" y1="219.5" x2="455.25" y2="230.5" stroke="#7a7a7a" stroke-width="1.6"/>
<line x1="452.05" y1="219.5" x2="458.45" y2="219.5" stroke="#333" stroke-width="1.0"/>
<line x1="452.05" y1="230.5" x2="458.45" y2="230.5" stroke="#333" stroke-width="1.0"/>
<line x1="479.26" y1="137.5" x2="479.26" y2="168.5" stroke="#7a7a7a" stroke-width="1.6"/>
<line x1="476.06" y1="137.5" x2="482.46" y2="137.5" stroke="#333" stroke-width="1.0"/>
<line x1="476.06" y1="168.5" x2="482.46" y2="168.5" stroke="#333" stroke-width="1.0"/>
<line x1="493.3" y1="86.5" x2="493.3" y2="102.5" stroke="#7a7a7a" stroke-width="1.6"/>
<line x1="490.1" y1="86.5" x2="496.5" y2="86.5" stroke="#333" stroke-width="1.0"/>
<line x1="490.1" y1="102.5" x2="496.5" y2="102.5" stroke="#333" stroke-width="1.0"/>
<line x1="510.99" y1="37.5" x2="510.99" y2="57.5" stroke="#7a7a7a" stroke-width="1.6"/>
<line x1="507.79" y1="37.5" x2="514.19" y2="37.5" stroke="#333" stroke-width="1.0"/>
<line x1="507.79" y1="57.5" x2="514.19" y2="57.5" stroke="#333" stroke-width="1.0"/>
<line x1="535" y1="33.5" x2="535" y2="41.5" stroke="#7a7a7a" stroke-width="1.6"/>
<line x1="531.8" y1="33.5" x2="538.2" y2="33.5" stroke="#333" stroke-width="1.0"/>
<line x1="531.8" y1="41.5" x2="538.2" y2="41.5" stroke="#333" stroke-width="1.0"/>
<line x1="407.24" y1="235.5" x2="407.24" y2="237.5" stroke="#7a7a7a" stroke-width="1.6"/>
<line x1="404.04" y1="235.5" x2="410.44" y2="235.5" stroke="#333" stroke-width="1.0"/>
<line x1="404.04" y1="237.5" x2="410.44" y2="237.5" stroke="#333" stroke-width="1.0"/>
<line x1="431.24" y1="234.5" x2="431.24" y2="236.5" stroke="#7a7a7a" stroke-width="1.6"/>
<line x1="428.04" y1="234.5" x2="434.44" y2="234.5" stroke="#333" stroke-width="1.0"/>
<line x1="428.04" y1="236.5" x2="434.44" y2="236.5" stroke="#333" stroke-width="1.0"/>
<line x1="445.29" y1="230.5" x2="445.29" y2="234.5" stroke="#7a7a7a" stroke-width="1.6"/>
<line x1="442.09" y1="230.5" x2="448.49" y2="230.5" stroke="#333" stroke-width="1.0"/>
<line x1="442.09" y1="234.5" x2="448.49" y2="234.5" stroke="#333" stroke-width="1.0"/>
<line x1="455.25" y1="164.5" x2="455.25" y2="224.5" stroke="#7a7a7a" stroke-width="1.6"/>
<line x1="452.05" y1="164.5" x2="458.45" y2="164.5" stroke="#333" stroke-width="1.0"/>
<line x1="452.05" y1="224.5" x2="458.45" y2="224.5" stroke="#333" stroke-width="1.0"/>
<line x1="479.26" y1="96.5" x2="479.26" y2="117.5" stroke="#7a7a7a" stroke-width="1.6"/>
<line x1="476.06" y1="96.5" x2="482.46" y2="96.5" stroke="#333" stroke-width="1.0"/>
<line x1="476.06" y1="117.5" x2="482.46" y2="117.5" stroke="#333" stroke-width="1.0"/>
<line x1="493.3" y1="68.5" x2="493.3" y2="80.5" stroke="#7a7a7a" stroke-width="1.6"/>
<line x1="490.1" y1="68.5" x2="496.5" y2="68.5" stroke="#333" stroke-width="1.0"/>
<line x1="490.1" y1="80.5" x2="496.5" y2="80.5" stroke="#333" stroke-width="1.0"/>
<line x1="510.99" y1="37.5" x2="510.99" y2="57.5" stroke="#7a7a7a" stroke-width="1.6"/>
<line x1="507.79" y1="37.5" x2="514.19" y2="37.5" stroke="#333" stroke-width="1.0"/>
<line x1="507.79" y1="57.5" x2="514.19" y2="57.5" stroke="#333" stroke-width="1.0"/>
<line x1="535" y1="10.5" x2="535" y2="30.5" stroke="#7a7a7a" stroke-width="1.6"/>
<line x1="531.8" y1="10.5" x2="538.2" y2="10.5" stroke="#333" stroke-width="1.0"/>
<line x1="531.8" y1="30.5" x2="538.2" y2="30.5" stroke="#333" stroke-width="1.0"/>
<circle cx="407.24" cy="236.7" r="2.75" fill="#fff" stroke="#000" stroke-width="2.5"/>
<circle cx="431.24" cy="235.51" r="2.75" fill="#fff" stroke="#000" stroke-width="2.5"/>
<circle cx="445.29" cy="232.73" r="2.75" fill="#fff" stroke="#000" stroke-width="2.5"/>
<circle cx="455.25" cy="219.81" r="2.75" fill="#fff" stroke="#000" stroke-width="2.5"/>
<circle cx="479.26" cy="160" r="2.75" fill="#fff" stroke="#000" stroke-width="2.5"/>
<circle cx="493.3" cy="95.62" r="2.75" fill="#fff" stroke="#000" stroke-width="2.5"/>
<circle cx="510.99" cy="47.14" r="2.75" fill="#fff" stroke="#000" stroke-width="2.5"/>
<circle cx="535" cy="24.09" r="2.75" fill="#fff" stroke="#000" stroke-width="2.5"/>
<rect x="404.44" y="233.5" width="5.6" height="5.6" fill="#fff" stroke="#000" stroke-width="2.4"/>
<rect x="428.44" y="232.61" width="5.6" height="5.6" fill="#fff" stroke="#000" stroke-width="2.4"/>
<rect x="442.49" y="230.12" width="5.6" height="5.6" fill="#fff" stroke="#000" stroke-width="2.4"/>
<rect x="452.45" y="191.58" width="5.6" height="5.6" fill="#fff" stroke="#000" stroke-width="2.4"/>
<rect x="476.46" y="104.15" width="5.6" height="5.6" fill="#fff" stroke="#000" stroke-width="2.4"/>
<rect x="490.5" y="71.76" width="5.6" height="5.6" fill="#fff" stroke="#000" stroke-width="2.4"/>
<rect x="508.19" y="44.34" width="5.6" height="5.6" fill="#fff" stroke="#000" stroke-width="2.4"/>
<rect x="532.2" y="17.71" width="5.6" height="5.6" fill="#fff" stroke="#000" stroke-width="2.4"/>
<circle cx="407.24" cy="237.69" r="2.9" fill="#000"/>
<circle cx="431.24" cy="236.1" r="2.9" fill="#000"/>
<circle cx="445.29" cy="233.72" r="2.9" fill="#000"/>
<circle cx="455.25" cy="225.77" r="2.9" fill="#000"/>
<circle cx="479.26" cy="174.9" r="2.9" fill="#000"/>
<circle cx="493.3" cy="114.1" r="2.9" fill="#000"/>
<circle cx="510.99" cy="69.99" r="2.9" fill="#000"/>
<circle cx="535" cy="40.98" r="2.9" fill="#000"/>
<rect x="404.39" y="233.35" width="5.7" height="5.7" fill="#000"/>
<rect x="428.39" y="232.56" width="5.7" height="5.7" fill="#000"/>
<rect x="442.44" y="230.07" width="5.7" height="5.7" fill="#000"/>
<rect x="452.4" y="222.13" width="5.7" height="5.7" fill="#000"/>
<rect x="476.41" y="150.2" width="5.7" height="5.7" fill="#000"/>
<rect x="490.45" y="91.78" width="5.7" height="5.7" fill="#000"/>
<rect x="508.14" y="44.29" width="5.7" height="5.7" fill="#000"/>
<rect x="532.15" y="34.55" width="5.7" height="5.7" fill="#000"/>
<polyline points="407.24,238.44 407.88,238.42 408.52,238.41 409.16,238.39 409.8,238.37 410.45,238.35 411.09,238.33 411.73,238.31 412.37,238.29 413.01,238.27 413.66,238.24 414.3,238.22 414.94,238.19 415.58,238.16 416.22,238.13 416.87,238.1 417.51,238.07 418.15,238.03 418.79,238 419.43,237.96 420.08,237.92 420.72,237.88 421.36,237.83 422,237.78 422.64,237.73 423.29,237.68 423.93,237.63 424.57,237.57 425.21,237.51 425.85,237.44 426.5,237.38 427.14,237.3 427.78,237.23 428.42,237.15 429.06,237.07 429.71,236.98 430.35,236.89 430.99,236.79 431.63,236.69 432.27,236.58 432.92,236.47 433.56,236.35 434.2,236.22 434.84,236.09 435.49,235.95 436.13,235.81 436.77,235.65 437.41,235.49 438.05,235.32 438.7,235.15 439.34,234.96 439.98,234.76 440.62,234.55 441.26,234.34 441.91,234.11 442.55,233.87 443.19,233.61 443.83,233.35 444.47,233.07 445.12,232.77 445.76,232.47 446.4,232.14 447.04,231.8 447.68,231.45 448.33,231.07 448.97,230.68 449.61,230.27 450.25,229.84 450.89,229.38 451.54,228.91 452.18,228.41 452.82,227.89 453.46,227.34 454.1,226.77 454.75,226.17 455.39,225.55 456.03,224.89 456.67,224.21 457.31,223.49 457.96,222.74 458.6,221.96 459.24,221.14 459.88,220.28 460.52,219.39 461.17,218.47 461.81,217.5 462.45,216.49 463.09,215.44 463.73,214.35 464.38,213.21 465.02,212.03 465.66,210.8 466.3,209.52 466.94,208.2 467.59,206.83 468.23,205.41 468.87,203.94 469.51,202.41 470.15,200.84 470.8,199.21 471.44,197.54 472.08,195.81 472.72,194.02 473.36,192.19 474.01,190.3 474.65,188.37 475.29,186.38 475.93,184.34 476.58,182.26 477.22,180.12 477.86,177.94 478.5,175.71 479.14,173.44 479.79,171.13 480.43,168.78 481.07,166.4 481.71,163.97 482.35,161.52 483,159.04 483.64,156.53 484.28,154 484.92,151.44 485.56,148.87 486.21,146.29 486.85,143.7 487.49,141.09 488.13,138.49 488.77,135.89 489.42,133.29 490.06,130.7 490.7,128.12 491.34,125.55 491.98,123 492.63,120.47 493.27,117.97 493.91,115.49 494.55,113.04 495.19,110.63 495.84,108.25 496.48,105.9 497.12,103.6 497.76,101.34 498.4,99.12 499.05,96.95 499.69,94.83 500.33,92.75 500.97,90.72 501.61,88.74 502.26,86.82 502.9,84.94 503.54,83.12 504.18,81.34 504.82,79.63 505.47,77.96 506.11,76.34 506.75,74.78 507.39,73.27 508.03,71.81 508.68,70.39 509.32,69.03 509.96,67.72 510.6,66.45 511.24,65.23 511.89,64.06 512.53,62.93 513.17,61.85 513.81,60.8 514.45,59.8 515.1,58.84 515.74,57.92 516.38,57.04 517.02,56.19 517.67,55.38 518.31,54.61 518.95,53.86 519.59,53.15 520.23,52.47 520.88,51.82 521.52,51.2 522.16,50.61 522.8,50.04 523.44,49.5 524.09,48.98 524.73,48.49 525.37,48.02 526.01,47.57 526.65,47.14 527.3,46.74 527.94,46.35 528.58,45.98 529.22,45.62 529.86,45.29 530.51,44.97 531.15,44.66 531.79,44.37 532.43,44.1 533.07,43.83 533.72,43.58 534.36,43.34 535,43.12" fill="none" stroke="#000" stroke-width="1.85"/>
<polyline points="407.24,237.42 407.88,237.4 408.52,237.38 409.16,237.36 409.8,237.34 410.45,237.32 411.09,237.3 411.73,237.27 412.37,237.25 413.01,237.22 413.66,237.19 414.3,237.16 414.94,237.13 415.58,237.1 416.22,237.06 416.87,237.03 417.51,236.99 418.15,236.95 418.79,236.9 419.43,236.86 420.08,236.81 420.72,236.76 421.36,236.71 422,236.65 422.64,236.59 423.29,236.53 423.93,236.47 424.57,236.4 425.21,236.33 425.85,236.25 426.5,236.17 427.14,236.08 427.78,235.99 428.42,235.9 429.06,235.8 429.71,235.7 430.35,235.59 430.99,235.47 431.63,235.35 432.27,235.22 432.92,235.08 433.56,234.94 434.2,234.79 434.84,234.63 435.49,234.46 436.13,234.29 436.77,234.1 437.41,233.91 438.05,233.7 438.7,233.49 439.34,233.26 439.98,233.02 440.62,232.77 441.26,232.5 441.91,232.22 442.55,231.93 443.19,231.62 443.83,231.3 444.47,230.96 445.12,230.6 445.76,230.23 446.4,229.83 447.04,229.41 447.68,228.98 448.33,228.52 448.97,228.04 449.61,227.54 450.25,227.01 450.89,226.45 451.54,225.87 452.18,225.26 452.82,224.62 453.46,223.95 454.1,223.25 454.75,222.51 455.39,221.74 456.03,220.93 456.67,220.09 457.31,219.21 457.96,218.29 458.6,217.33 459.24,216.32 459.88,215.28 460.52,214.18 461.17,213.04 461.81,211.86 462.45,210.62 463.09,209.33 463.73,208 464.38,206.6 465.02,205.16 465.66,203.66 466.3,202.11 466.94,200.5 467.59,198.83 468.23,197.1 468.87,195.32 469.51,193.48 470.15,191.57 470.8,189.61 471.44,187.6 472.08,185.52 472.72,183.38 473.36,181.19 474.01,178.94 474.65,176.64 475.29,174.28 475.93,171.87 476.58,169.41 477.22,166.9 477.86,164.34 478.5,161.74 479.14,159.1 479.79,156.41 480.43,153.7 481.07,150.95 481.71,148.17 482.35,145.37 483,142.54 483.64,139.7 484.28,136.84 484.92,133.97 485.56,131.1 486.21,128.22 486.85,125.34 487.49,122.47 488.13,119.61 488.77,116.77 489.42,113.94 490.06,111.13 490.7,108.35 491.34,105.6 491.98,102.88 492.63,100.2 493.27,97.55 493.91,94.94 494.55,92.38 495.19,89.87 495.84,87.4 496.48,84.98 497.12,82.62 497.76,80.31 498.4,78.05 499.05,75.86 499.69,73.71 500.33,71.63 500.97,69.61 501.61,67.64 502.26,65.73 502.9,63.88 503.54,62.09 504.18,60.36 504.82,58.69 505.47,57.07 506.11,55.51 506.75,54 507.39,52.55 508.03,51.16 508.68,49.81 509.32,48.52 509.96,47.28 510.6,46.09 511.24,44.94 511.89,43.85 512.53,42.79 513.17,41.78 513.81,40.82 514.45,39.89 515.1,39.01 515.74,38.16 516.38,37.35 517.02,36.58 517.67,35.84 518.31,35.13 518.95,34.46 519.59,33.81 520.23,33.2 520.88,32.62 521.52,32.06 522.16,31.53 522.8,31.02 523.44,30.54 524.09,30.08 524.73,29.64 525.37,29.22 526.01,28.82 526.65,28.44 527.3,28.08 527.94,27.74 528.58,27.42 529.22,27.11 529.86,26.81 530.51,26.53 531.15,26.27 531.79,26.01 532.43,25.77 533.07,25.54 533.72,25.33 534.36,25.12 535,24.93" fill="none" stroke="#000" stroke-width="1.85" stroke-dasharray="4.2 2.8"/>
<polyline points="407.24,237.4 407.88,237.39 408.52,237.37 409.16,237.36 409.8,237.35 410.45,237.34 411.09,237.32 411.73,237.31 412.37,237.29 413.01,237.27 413.66,237.26 414.3,237.24 414.94,237.22 415.58,237.19 416.22,237.17 416.87,237.15 417.51,237.12 418.15,237.09 418.79,237.06 419.43,237.03 420.08,237 420.72,236.96 421.36,236.93 422,236.89 422.64,236.85 423.29,236.8 423.93,236.76 424.57,236.71 425.21,236.65 425.85,236.6 426.5,236.54 427.14,236.47 427.78,236.41 428.42,236.34 429.06,236.26 429.71,236.18 430.35,236.1 430.99,236.01 431.63,235.91 432.27,235.81 432.92,235.7 433.56,235.59 434.2,235.47 434.84,235.34 435.49,235.21 436.13,235.06 436.77,234.91 437.41,234.75 438.05,234.58 438.7,234.4 439.34,234.21 439.98,234 440.62,233.79 441.26,233.56 441.91,233.32 442.55,233.07 443.19,232.8 443.83,232.51 444.47,232.21 445.12,231.89 445.76,231.55 446.4,231.19 447.04,230.81 447.68,230.41 448.33,229.99 448.97,229.54 449.61,229.07 450.25,228.57 450.89,228.04 451.54,227.48 452.18,226.9 452.82,226.28 453.46,225.62 454.1,224.94 454.75,224.21 455.39,223.45 456.03,222.64 456.67,221.8 457.31,220.91 457.96,219.97 458.6,218.99 459.24,217.96 459.88,216.88 460.52,215.74 461.17,214.55 461.81,213.31 462.45,212.01 463.09,210.64 463.73,209.22 464.38,207.74 465.02,206.19 465.66,204.57 466.3,202.89 466.94,201.14 467.59,199.33 468.23,197.44 468.87,195.49 469.51,193.47 470.15,191.37 470.8,189.21 471.44,186.98 472.08,184.69 472.72,182.32 473.36,179.89 474.01,177.4 474.65,174.85 475.29,172.24 475.93,169.57 476.58,166.85 477.22,164.08 477.86,161.26 478.5,158.4 479.14,155.51 479.79,152.58 480.43,149.62 481.07,146.64 481.71,143.65 482.35,140.63 483,137.62 483.64,134.59 484.28,131.57 484.92,128.56 485.56,125.57 486.21,122.59 486.85,119.63 487.49,116.71 488.13,113.81 488.77,110.96 489.42,108.15 490.06,105.38 490.7,102.66 491.34,100 491.98,97.39 492.63,94.84 493.27,92.36 493.91,89.93 494.55,87.57 495.19,85.28 495.84,83.05 496.48,80.9 497.12,78.81 497.76,76.79 498.4,74.84 499.05,72.96 499.69,71.15 500.33,69.41 500.97,67.73 501.61,66.12 502.26,64.58 502.9,63.1 503.54,61.68 504.18,60.32 504.82,59.02 505.47,57.78 506.11,56.6 506.75,55.47 507.39,54.39 508.03,53.36 508.68,52.38 509.32,51.45 509.96,50.56 510.6,49.72 511.24,48.92 511.89,48.16 512.53,47.44 513.17,46.75 513.81,46.1 514.45,45.48 515.1,44.9 515.74,44.34 516.38,43.82 517.02,43.32 517.67,42.85 518.31,42.41 518.95,41.98 519.59,41.58 520.23,41.21 520.88,40.85 521.52,40.51 522.16,40.19 522.8,39.89 523.44,39.61 524.09,39.34 524.73,39.08 525.37,38.84 526.01,38.62 526.65,38.4 527.3,38.2 527.94,38.01 528.58,37.83 529.22,37.66 529.86,37.5 530.51,37.35 531.15,37.21 531.79,37.07 532.43,36.94 533.07,36.82 533.72,36.71 534.36,36.6 535,36.5" fill="none" stroke="#000" stroke-width="1.85"/>
<polyline points="407.24,242.95 407.88,242.87 408.52,242.78 409.16,242.69 409.8,242.59 410.45,242.49 411.09,242.39 411.73,242.28 412.37,242.16 413.01,242.04 413.66,241.92 414.3,241.79 414.94,241.65 415.58,241.5 416.22,241.35 416.87,241.2 417.51,241.03 418.15,240.86 418.79,240.68 419.43,240.49 420.08,240.29 420.72,240.09 421.36,239.87 422,239.65 422.64,239.41 423.29,239.16 423.93,238.91 424.57,238.64 425.21,238.36 425.85,238.07 426.5,237.76 427.14,237.44 427.78,237.11 428.42,236.76 429.06,236.39 429.71,236.01 430.35,235.62 430.99,235.2 431.63,234.77 432.27,234.32 432.92,233.86 433.56,233.37 434.2,232.86 434.84,232.33 435.49,231.77 436.13,231.2 436.77,230.6 437.41,229.97 438.05,229.32 438.7,228.64 439.34,227.94 439.98,227.21 440.62,226.44 441.26,225.65 441.91,224.83 442.55,223.98 443.19,223.09 443.83,222.17 444.47,221.22 445.12,220.22 445.76,219.2 446.4,218.14 447.04,217.03 447.68,215.89 448.33,214.71 448.97,213.49 449.61,212.23 450.25,210.93 450.89,209.58 451.54,208.2 452.18,206.76 452.82,205.29 453.46,203.77 454.1,202.2 454.75,200.59 455.39,198.94 456.03,197.24 456.67,195.49 457.31,193.7 457.96,191.87 458.6,189.99 459.24,188.06 459.88,186.1 460.52,184.09 461.17,182.04 461.81,179.94 462.45,177.81 463.09,175.64 463.73,173.43 464.38,171.18 465.02,168.9 465.66,166.59 466.3,164.25 466.94,161.88 467.59,159.48 468.23,157.05 468.87,154.61 469.51,152.14 470.15,149.66 470.8,147.16 471.44,144.64 472.08,142.12 472.72,139.59 473.36,137.06 474.01,134.52 474.65,131.99 475.29,129.45 475.93,126.93 476.58,124.41 477.22,121.91 477.86,119.41 478.5,116.94 479.14,114.48 479.79,112.05 480.43,109.64 481.07,107.25 481.71,104.9 482.35,102.57 483,100.28 483.64,98.01 484.28,95.79 484.92,93.6 485.56,91.45 486.21,89.34 486.85,87.26 487.49,85.23 488.13,83.25 488.77,81.3 489.42,79.4 490.06,77.55 490.7,75.74 491.34,73.97 491.98,72.25 492.63,70.57 493.27,68.94 493.91,67.36 494.55,65.82 495.19,64.32 495.84,62.87 496.48,61.46 497.12,60.09 497.76,58.77 498.4,57.49 499.05,56.25 499.69,55.05 500.33,53.9 500.97,52.78 501.61,51.7 502.26,50.65 502.9,49.65 503.54,48.67 504.18,47.74 504.82,46.84 505.47,45.97 506.11,45.13 506.75,44.32 507.39,43.55 508.03,42.8 508.68,42.09 509.32,41.4 509.96,40.73 510.6,40.1 511.24,39.49 511.89,38.9 512.53,38.33 513.17,37.79 513.81,37.27 514.45,36.77 515.1,36.3 515.74,35.84 516.38,35.4 517.02,34.98 517.67,34.57 518.31,34.19 518.95,33.81 519.59,33.46 520.23,33.12 520.88,32.79 521.52,32.48 522.16,32.18 522.8,31.9 523.44,31.62 524.09,31.36 524.73,31.11 525.37,30.87 526.01,30.64 526.65,30.42 527.3,30.21 527.94,30.01 528.58,29.81 529.22,29.63 529.86,29.45 530.51,29.29 531.15,29.12 531.79,28.97 532.43,28.82 533.07,28.68 533.72,28.55 534.36,28.42 535,28.3" fill="none" stroke="#000" stroke-width="1.85" stroke-dasharray="4.2 2.8"/>
<circle cx="569" cy="50.3" r="2.9" fill="#000"/>
<line x1="552" y1="50.3" x2="586.2" y2="50.3" stroke="#000" stroke-width="1.85"/>
<text x="593.8" y="54.75" font-size="10.5" fill="#333333" textLength="26" lengthAdjust="spacingAndGlyphs" stroke="#333" stroke-width="0.2">WTM</text>
<circle cx="569" cy="64" r="2.75" fill="#fff" stroke="#000" stroke-width="2.5"/>
<line x1="552.4" y1="64" x2="556.1" y2="64" stroke="#000" stroke-width="1.85"/>
<line x1="559" y1="64" x2="562.7" y2="64" stroke="#000" stroke-width="1.85"/>
<line x1="567.8" y1="64" x2="570.2" y2="64" stroke="#000" stroke-width="1.85"/>
<line x1="573.4" y1="64" x2="577" y2="64" stroke="#000" stroke-width="1.85"/>
<line x1="580" y1="64" x2="584.2" y2="64" stroke="#000" stroke-width="1.85"/>
<text x="593.8" y="68.45" font-size="10.5" fill="#333333" textLength="57" lengthAdjust="spacingAndGlyphs" stroke="#333" stroke-width="0.2">WTM + TPO</text>
<rect x="566.15" y="20.25" width="5.7" height="5.7" fill="#000"/>
<line x1="552" y1="23.1" x2="586.2" y2="23.1" stroke="#000" stroke-width="1.85"/>
<text x="593.8" y="27.55" font-size="10.5" fill="#333333" textLength="34" lengthAdjust="spacingAndGlyphs" stroke="#333" stroke-width="0.2">Vehicle</text>
<rect x="566.2" y="34.4" width="5.6" height="5.6" fill="#fff" stroke="#000" stroke-width="2.4"/>
<line x1="552.4" y1="37.2" x2="556.1" y2="37.2" stroke="#000" stroke-width="1.85"/>
<line x1="559" y1="37.2" x2="562.7" y2="37.2" stroke="#000" stroke-width="1.85"/>
<line x1="567.8" y1="37.2" x2="570.2" y2="37.2" stroke="#000" stroke-width="1.85"/>
<line x1="573.4" y1="37.2" x2="577" y2="37.2" stroke="#000" stroke-width="1.85"/>
<line x1="580" y1="37.2" x2="584.2" y2="37.2" stroke="#000" stroke-width="1.85"/>
<text x="593.8" y="41.65" font-size="10.5" fill="#333333" textLength="20.3" lengthAdjust="spacingAndGlyphs" stroke="#333" stroke-width="0.2">TPO</text>
<line x1="41.7" y1="298.1" x2="41.7" y2="538.9" stroke="#000" stroke-width="1.9"/>
<line x1="40.1" y1="538" x2="201.8" y2="538" stroke="#000" stroke-width="1.9"/>
<line x1="36.9" y1="529.8" x2="41.7" y2="529.8" stroke="#000" stroke-width="1.6"/>
<text x="36.1" y="534" font-size="10.1" fill="#333333" text-anchor="end" textLength="5.62" lengthAdjust="spacing">0</text>
<line x1="36.9" y1="488.67" x2="41.7" y2="488.67" stroke="#000" stroke-width="1.6"/>
<text x="36.1" y="492.87" font-size="10.1" fill="#333333" text-anchor="end" textLength="10.63" lengthAdjust="spacing">25</text>
<line x1="36.9" y1="447.55" x2="41.7" y2="447.55" stroke="#000" stroke-width="1.6"/>
<text x="36.1" y="451.75" font-size="10.1" fill="#333333" text-anchor="end" textLength="10.63" lengthAdjust="spacing">50</text>
<line x1="36.9" y1="406.42" x2="41.7" y2="406.42" stroke="#000" stroke-width="1.6"/>
<text x="36.1" y="410.62" font-size="10.1" fill="#333333" text-anchor="end" textLength="10.63" lengthAdjust="spacing">75</text>
<line x1="36.9" y1="365.3" x2="41.7" y2="365.3" stroke="#000" stroke-width="1.6"/>
<text x="36.1" y="369.5" font-size="10.1" fill="#333333" text-anchor="end" textLength="15.65" lengthAdjust="spacing">100</text>
<line x1="36.9" y1="324.17" x2="41.7" y2="324.17" stroke="#000" stroke-width="1.6"/>
<text x="36.1" y="328.37" font-size="10.1" fill="#333333" text-anchor="end" textLength="15.65" lengthAdjust="spacing">125</text>
<line x1="41.7" y1="538" x2="41.7" y2="542.8" stroke="#000" stroke-width="1.7"/>
<text x="42" y="554.6" font-size="10.1" fill="#333333" text-anchor="middle" textLength="16.6" lengthAdjust="spacing">-7.0</text>
<line x1="81.48" y1="538" x2="81.48" y2="542.8" stroke="#000" stroke-width="1.7"/>
<text x="81.78" y="554.6" font-size="10.1" fill="#333333" text-anchor="middle" textLength="16.6" lengthAdjust="spacing">-6.5</text>
<line x1="121.25" y1="538" x2="121.25" y2="542.8" stroke="#000" stroke-width="1.7"/>
<text x="121.55" y="554.6" font-size="10.1" fill="#333333" text-anchor="middle" textLength="16.6" lengthAdjust="spacing">-6.0</text>
<line x1="161.03" y1="538" x2="161.03" y2="542.8" stroke="#000" stroke-width="1.7"/>
<text x="161.33" y="554.6" font-size="10.1" fill="#333333" text-anchor="middle" textLength="16.6" lengthAdjust="spacing">-5.5</text>
<line x1="200.8" y1="538" x2="200.8" y2="542.8" stroke="#000" stroke-width="1.7"/>
<text x="201.1" y="554.6" font-size="10.1" fill="#333333" text-anchor="middle" textLength="16.6" lengthAdjust="spacing">-5.0</text>
<text x="87.3" y="571.4" font-size="10.6" fill="#333333" textLength="68.6" lengthAdjust="spacingAndGlyphs">Log[SFLLRN]M</text>
<text transform="translate(10,484) rotate(-90)" font-size="10.6" fill="#333333" textLength="131.5" lengthAdjust="spacing">% Integrin α<tspan font-size="7.4" dy="2.4">IIb</tspan><tspan dy="-2.4">β</tspan><tspan font-size="7.4" dy="2.4">3</tspan><tspan dy="-2.4"> activation</tspan></text>
<text x="2.4" y="296" font-size="13.2" fill="#111" stroke="#111" stroke-width="0.35">c</text>
<line x1="73.36" y1="525.5" x2="73.36" y2="526.5" stroke="#7a7a7a" stroke-width="1.6"/>
<line x1="70.16" y1="525.5" x2="76.56" y2="525.5" stroke="#333" stroke-width="1.0"/>
<line x1="70.16" y1="526.5" x2="76.56" y2="526.5" stroke="#333" stroke-width="1.0"/>
<line x1="97.3" y1="524.5" x2="97.3" y2="526.5" stroke="#7a7a7a" stroke-width="1.6"/>
<line x1="94.1" y1="524.5" x2="100.5" y2="524.5" stroke="#333" stroke-width="1.0"/>
<line x1="94.1" y1="526.5" x2="100.5" y2="526.5" stroke="#333" stroke-width="1.0"/>
<line x1="111.31" y1="514.5" x2="111.31" y2="517.5" stroke="#7a7a7a" stroke-width="1.6"/>
<line x1="108.11" y1="514.5" x2="114.51" y2="514.5" stroke="#333" stroke-width="1.0"/>
<line x1="108.11" y1="517.5" x2="114.51" y2="517.5" stroke="#333" stroke-width="1.0"/>
<line x1="121.25" y1="510.5" x2="121.25" y2="515.5" stroke="#7a7a7a" stroke-width="1.6"/>
<line x1="118.05" y1="510.5" x2="124.45" y2="510.5" stroke="#333" stroke-width="1.0"/>
<line x1="118.05" y1="515.5" x2="124.45" y2="515.5" stroke="#333" stroke-width="1.0"/>
<line x1="145.2" y1="464.5" x2="145.2" y2="484.5" stroke="#7a7a7a" stroke-width="1.6"/>
<line x1="142" y1="464.5" x2="148.4" y2="464.5" stroke="#333" stroke-width="1.0"/>
<line x1="142" y1="484.5" x2="148.4" y2="484.5" stroke="#333" stroke-width="1.0"/>
<line x1="159.2" y1="436.5" x2="159.2" y2="459.5" stroke="#7a7a7a" stroke-width="1.6"/>
<line x1="156" y1="436.5" x2="162.4" y2="436.5" stroke="#333" stroke-width="1.0"/>
<line x1="156" y1="459.5" x2="162.4" y2="459.5" stroke="#333" stroke-width="1.0"/>
<line x1="176.85" y1="414.5" x2="176.85" y2="428.5" stroke="#7a7a7a" stroke-width="1.6"/>
<line x1="173.65" y1="414.5" x2="180.05" y2="414.5" stroke="#333" stroke-width="1.0"/>
<line x1="173.65" y1="428.5" x2="180.05" y2="428.5" stroke="#333" stroke-width="1.0"/>
<line x1="200.8" y1="415.5" x2="200.8" y2="426.5" stroke="#7a7a7a" stroke-width="1.6"/>
<line x1="197.6" y1="415.5" x2="204" y2="415.5" stroke="#333" stroke-width="1.0"/>
<line x1="197.6" y1="426.5" x2="204" y2="426.5" stroke="#333" stroke-width="1.0"/>
<line x1="73.36" y1="524.5" x2="73.36" y2="527.5" stroke="#7a7a7a" stroke-width="1.6"/>
<line x1="70.16" y1="524.5" x2="76.56" y2="524.5" stroke="#333" stroke-width="1.0"/>
<line x1="70.16" y1="527.5" x2="76.56" y2="527.5" stroke="#333" stroke-width="1.0"/>
<line x1="97.3" y1="523.5" x2="97.3" y2="526.5" stroke="#7a7a7a" stroke-width="1.6"/>
<line x1="94.1" y1="523.5" x2="100.5" y2="523.5" stroke="#333" stroke-width="1.0"/>
<line x1="94.1" y1="526.5" x2="100.5" y2="526.5" stroke="#333" stroke-width="1.0"/>
<line x1="111.31" y1="514.5" x2="111.31" y2="519.5" stroke="#7a7a7a" stroke-width="1.6"/>
<line x1="108.11" y1="514.5" x2="114.51" y2="514.5" stroke="#333" stroke-width="1.0"/>
<line x1="108.11" y1="519.5" x2="114.51" y2="519.5" stroke="#333" stroke-width="1.0"/>
<line x1="121.25" y1="506.5" x2="121.25" y2="513.5" stroke="#7a7a7a" stroke-width="1.6"/>
<line x1="118.05" y1="506.5" x2="124.45" y2="506.5" stroke="#333" stroke-width="1.0"/>
<line x1="118.05" y1="513.5" x2="124.45" y2="513.5" stroke="#333" stroke-width="1.0"/>
<line x1="145.2" y1="446.5" x2="145.2" y2="475.5" stroke="#7a7a7a" stroke-width="1.6"/>
<line x1="142" y1="446.5" x2="148.4" y2="446.5" stroke="#333" stroke-width="1.0"/>
<line x1="142" y1="475.5" x2="148.4" y2="475.5" stroke="#333" stroke-width="1.0"/>
<line x1="159.2" y1="427.5" x2="159.2" y2="451.5" stroke="#7a7a7a" stroke-width="1.6"/>
<line x1="156" y1="427.5" x2="162.4" y2="427.5" stroke="#333" stroke-width="1.0"/>
<line x1="156" y1="451.5" x2="162.4" y2="451.5" stroke="#333" stroke-width="1.0"/>
<line x1="176.85" y1="402.5" x2="176.85" y2="421.5" stroke="#7a7a7a" stroke-width="1.6"/>
<line x1="173.65" y1="402.5" x2="180.05" y2="402.5" stroke="#333" stroke-width="1.0"/>
<line x1="173.65" y1="421.5" x2="180.05" y2="421.5" stroke="#333" stroke-width="1.0"/>
<line x1="200.8" y1="401.5" x2="200.8" y2="420.5" stroke="#7a7a7a" stroke-width="1.6"/>
<line x1="197.6" y1="401.5" x2="204" y2="401.5" stroke="#333" stroke-width="1.0"/>
<line x1="197.6" y1="420.5" x2="204" y2="420.5" stroke="#333" stroke-width="1.0"/>
<line x1="73.36" y1="522.5" x2="73.36" y2="525.5" stroke="#7a7a7a" stroke-width="1.6"/>
<line x1="70.16" y1="522.5" x2="76.56" y2="522.5" stroke="#333" stroke-width="1.0"/>
<line x1="70.16" y1="525.5" x2="76.56" y2="525.5" stroke="#333" stroke-width="1.0"/>
<line x1="97.3" y1="521.5" x2="97.3" y2="524.5" stroke="#7a7a7a" stroke-width="1.6"/>
<line x1="94.1" y1="521.5" x2="100.5" y2="521.5" stroke="#333" stroke-width="1.0"/>
<line x1="94.1" y1="524.5" x2="100.5" y2="524.5" stroke="#333" stroke-width="1.0"/>
<line x1="111.31" y1="514.5" x2="111.31" y2="519.5" stroke="#7a7a7a" stroke-width="1.6"/>
<line x1="108.11" y1="514.5" x2="114.51" y2="514.5" stroke="#333" stroke-width="1.0"/>
<line x1="108.11" y1="519.5" x2="114.51" y2="519.5" stroke="#333" stroke-width="1.0"/>
<line x1="121.25" y1="504.5" x2="121.25" y2="512.5" stroke="#7a7a7a" stroke-width="1.6"/>
<line x1="118.05" y1="504.5" x2="124.45" y2="504.5" stroke="#333" stroke-width="1.0"/>
<line x1="118.05" y1="512.5" x2="124.45" y2="512.5" stroke="#333" stroke-width="1.0"/>
<line x1="145.2" y1="412.5" x2="145.2" y2="444.5" stroke="#7a7a7a" stroke-width="1.6"/>
<line x1="142" y1="412.5" x2="148.4" y2="412.5" stroke="#333" stroke-width="1.0"/>
<line x1="142" y1="444.5" x2="148.4" y2="444.5" stroke="#333" stroke-width="1.0"/>
<line x1="159.2" y1="388.5" x2="159.2" y2="422.5" stroke="#7a7a7a" stroke-width="1.6"/>
<line x1="156" y1="388.5" x2="162.4" y2="388.5" stroke="#333" stroke-width="1.0"/>
<line x1="156" y1="422.5" x2="162.4" y2="422.5" stroke="#333" stroke-width="1.0"/>
<line x1="176.85" y1="365.5" x2="176.85" y2="382.5" stroke="#7a7a7a" stroke-width="1.6"/>
<line x1="173.65" y1="365.5" x2="180.05" y2="365.5" stroke="#333" stroke-width="1.0"/>
<line x1="173.65" y1="382.5" x2="180.05" y2="382.5" stroke="#333" stroke-width="1.0"/>
<line x1="200.8" y1="370.5" x2="200.8" y2="373.5" stroke="#7a7a7a" stroke-width="1.6"/>
<line x1="197.6" y1="370.5" x2="204" y2="370.5" stroke="#333" stroke-width="1.0"/>
<line x1="197.6" y1="373.5" x2="204" y2="373.5" stroke="#333" stroke-width="1.0"/>
<line x1="73.36" y1="520.5" x2="73.36" y2="524.5" stroke="#7a7a7a" stroke-width="1.6"/>
<line x1="70.16" y1="520.5" x2="76.56" y2="520.5" stroke="#333" stroke-width="1.0"/>
<line x1="70.16" y1="524.5" x2="76.56" y2="524.5" stroke="#333" stroke-width="1.0"/>
<line x1="97.3" y1="514.5" x2="97.3" y2="518.5" stroke="#7a7a7a" stroke-width="1.6"/>
<line x1="94.1" y1="514.5" x2="100.5" y2="514.5" stroke="#333" stroke-width="1.0"/>
<line x1="94.1" y1="518.5" x2="100.5" y2="518.5" stroke="#333" stroke-width="1.0"/>
<line x1="111.31" y1="501.5" x2="111.31" y2="506.5" stroke="#7a7a7a" stroke-width="1.6"/>
<line x1="108.11" y1="501.5" x2="114.51" y2="501.5" stroke="#333" stroke-width="1.0"/>
<line x1="108.11" y1="506.5" x2="114.51" y2="506.5" stroke="#333" stroke-width="1.0"/>
<line x1="121.25" y1="467.5" x2="121.25" y2="493.5" stroke="#7a7a7a" stroke-width="1.6"/>
<line x1="118.05" y1="467.5" x2="124.45" y2="467.5" stroke="#333" stroke-width="1.0"/>
<line x1="118.05" y1="493.5" x2="124.45" y2="493.5" stroke="#333" stroke-width="1.0"/>
<line x1="145.2" y1="364.5" x2="145.2" y2="403.5" stroke="#7a7a7a" stroke-width="1.6"/>
<line x1="142" y1="364.5" x2="148.4" y2="364.5" stroke="#333" stroke-width="1.0"/>
<line x1="142" y1="403.5" x2="148.4" y2="403.5" stroke="#333" stroke-width="1.0"/>
<line x1="159.2" y1="336.5" x2="159.2" y2="368.5" stroke="#7a7a7a" stroke-width="1.6"/>
<line x1="156" y1="336.5" x2="162.4" y2="336.5" stroke="#333" stroke-width="1.0"/>
<line x1="156" y1="368.5" x2="162.4" y2="368.5" stroke="#333" stroke-width="1.0"/>
<line x1="176.85" y1="327.5" x2="176.85" y2="346.5" stroke="#7a7a7a" stroke-width="1.6"/>
<line x1="173.65" y1="327.5" x2="180.05" y2="327.5" stroke="#333" stroke-width="1.0"/>
<line x1="173.65" y1="346.5" x2="180.05" y2="346.5" stroke="#333" stroke-width="1.0"/>
<line x1="200.8" y1="332.5" x2="200.8" y2="345.5" stroke="#7a7a7a" stroke-width="1.6"/>
<line x1="197.6" y1="332.5" x2="204" y2="332.5" stroke="#333" stroke-width="1.0"/>
<line x1="197.6" y1="345.5" x2="204" y2="345.5" stroke="#333" stroke-width="1.0"/>
<circle cx="73.36" cy="525.69" r="2.75" fill="#fff" stroke="#000" stroke-width="2.5"/>
<circle cx="97.3" cy="524.87" r="2.75" fill="#fff" stroke="#000" stroke-width="2.5"/>
<circle cx="111.31" cy="516.64" r="2.75" fill="#fff" stroke="#000" stroke-width="2.5"/>
<circle cx="121.25" cy="510.06" r="2.75" fill="#fff" stroke="#000" stroke-width="2.5"/>
<circle cx="145.2" cy="461.2" r="2.75" fill="#fff" stroke="#000" stroke-width="2.5"/>
<circle cx="159.2" cy="439.82" r="2.75" fill="#fff" stroke="#000" stroke-width="2.5"/>
<circle cx="176.85" cy="412.18" r="2.75" fill="#fff" stroke="#000" stroke-width="2.5"/>
<circle cx="200.8" cy="410.87" r="2.75" fill="#fff" stroke="#000" stroke-width="2.5"/>
<rect x="70.56" y="519.76" width="5.6" height="5.6" fill="#fff" stroke="#000" stroke-width="2.4"/>
<rect x="94.5" y="513.68" width="5.6" height="5.6" fill="#fff" stroke="#000" stroke-width="2.4"/>
<rect x="108.51" y="501.5" width="5.6" height="5.6" fill="#fff" stroke="#000" stroke-width="2.4"/>
<rect x="118.45" y="477.49" width="5.6" height="5.6" fill="#fff" stroke="#000" stroke-width="2.4"/>
<rect x="142.4" y="381.42" width="5.6" height="5.6" fill="#fff" stroke="#000" stroke-width="2.4"/>
<rect x="156.4" y="349.83" width="5.6" height="5.6" fill="#fff" stroke="#000" stroke-width="2.4"/>
<rect x="174.05" y="334.53" width="5.6" height="5.6" fill="#fff" stroke="#000" stroke-width="2.4"/>
<rect x="198" y="336.02" width="5.6" height="5.6" fill="#fff" stroke="#000" stroke-width="2.4"/>
<circle cx="73.36" cy="526.02" r="2.9" fill="#000"/>
<circle cx="97.3" cy="525.36" r="2.9" fill="#000"/>
<circle cx="111.31" cy="516.15" r="2.9" fill="#000"/>
<circle cx="121.25" cy="513.35" r="2.9" fill="#000"/>
<circle cx="145.2" cy="474.53" r="2.9" fill="#000"/>
<circle cx="159.2" cy="448.04" r="2.9" fill="#000"/>
<circle cx="176.85" cy="421.72" r="2.9" fill="#000"/>
<circle cx="200.8" cy="420.57" r="2.9" fill="#000"/>
<rect x="70.51" y="521.19" width="5.7" height="5.7" fill="#000"/>
<rect x="94.45" y="520.37" width="5.7" height="5.7" fill="#000"/>
<rect x="108.46" y="513.79" width="5.7" height="5.7" fill="#000"/>
<rect x="118.4" y="505.56" width="5.7" height="5.7" fill="#000"/>
<rect x="142.35" y="425.78" width="5.7" height="5.7" fill="#000"/>
<rect x="156.35" y="402.42" width="5.7" height="5.7" fill="#000"/>
<rect x="174" y="371.33" width="5.7" height="5.7" fill="#000"/>
<rect x="197.95" y="369.19" width="5.7" height="5.7" fill="#000"/>
<polyline points="73.36,525.33 74,525.31 74.64,525.29 75.28,525.27 75.92,525.25 76.56,525.23 77.2,525.21 77.84,525.19 78.48,525.16 79.12,525.14 79.76,525.11 80.4,525.08 81.04,525.06 81.68,525.02 82.32,524.99 82.96,524.96 83.6,524.92 84.24,524.88 84.88,524.85 85.52,524.8 86.16,524.76 86.8,524.71 87.45,524.67 88.09,524.62 88.73,524.56 89.37,524.51 90.01,524.45 90.65,524.38 91.29,524.32 91.93,524.25 92.57,524.18 93.21,524.1 93.85,524.02 94.49,523.94 95.13,523.85 95.77,523.76 96.41,523.67 97.05,523.56 97.69,523.46 98.33,523.35 98.97,523.23 99.61,523.11 100.25,522.98 100.89,522.84 101.53,522.7 102.18,522.55 102.82,522.39 103.46,522.23 104.1,522.06 104.74,521.88 105.38,521.69 106.02,521.49 106.66,521.28 107.3,521.06 107.94,520.84 108.58,520.6 109.22,520.35 109.86,520.08 110.5,519.81 111.14,519.52 111.78,519.22 112.42,518.91 113.06,518.58 113.7,518.24 114.34,517.88 114.98,517.51 115.62,517.11 116.26,516.71 116.9,516.28 117.55,515.84 118.19,515.38 118.83,514.89 119.47,514.39 120.11,513.87 120.75,513.33 121.39,512.76 122.03,512.17 122.67,511.56 123.31,510.93 123.95,510.27 124.59,509.59 125.23,508.88 125.87,508.15 126.51,507.39 127.15,506.6 127.79,505.79 128.43,504.96 129.07,504.09 129.71,503.2 130.35,502.28 130.99,501.34 131.63,500.37 132.27,499.37 132.92,498.34 133.56,497.29 134.2,496.21 134.84,495.11 135.48,493.98 136.12,492.83 136.76,491.65 137.4,490.46 138.04,489.24 138.68,487.99 139.32,486.73 139.96,485.46 140.6,484.16 141.24,482.85 141.88,481.52 142.52,480.18 143.16,478.83 143.8,477.47 144.44,476.1 145.08,474.73 145.72,473.35 146.36,471.97 147,470.58 147.65,469.2 148.29,467.82 148.93,466.45 149.57,465.08 150.21,463.71 150.85,462.36 151.49,461.02 152.13,459.69 152.77,458.37 153.41,457.08 154.05,455.79 154.69,454.53 155.33,453.28 155.97,452.06 156.61,450.85 157.25,449.67 157.89,448.52 158.53,447.38 159.17,446.27 159.81,445.19 160.45,444.13 161.09,443.1 161.73,442.1 162.37,441.12 163.02,440.17 163.66,439.24 164.3,438.35 164.94,437.47 165.58,436.63 166.22,435.81 166.86,435.02 167.5,434.26 168.14,433.52 168.78,432.81 169.42,432.12 170.06,431.46 170.7,430.82 171.34,430.2 171.98,429.61 172.62,429.04 173.26,428.49 173.9,427.96 174.54,427.45 175.18,426.97 175.82,426.5 176.46,426.05 177.1,425.62 177.74,425.21 178.39,424.82 179.03,424.44 179.67,424.08 180.31,423.73 180.95,423.4 181.59,423.08 182.23,422.78 182.87,422.49 183.51,422.21 184.15,421.95 184.79,421.69 185.43,421.45 186.07,421.22 186.71,421 187.35,420.79 187.99,420.59 188.63,420.4 189.27,420.22 189.91,420.04 190.55,419.88 191.19,419.72 191.83,419.57 192.47,419.42 193.11,419.29 193.76,419.16 194.4,419.03 195.04,418.91 195.68,418.8 196.32,418.69 196.96,418.59 197.6,418.49 198.24,418.4 198.88,418.31 199.52,418.23 200.16,418.15 200.8,418.07" fill="none" stroke="#000" stroke-width="1.85"/>
<polyline points="73.36,526.54 74,526.51 74.64,526.48 75.28,526.45 75.92,526.42 76.56,526.39 77.2,526.35 77.84,526.31 78.48,526.27 79.12,526.23 79.76,526.19 80.4,526.14 81.04,526.1 81.68,526.05 82.32,525.99 82.96,525.94 83.6,525.88 84.24,525.82 84.88,525.76 85.52,525.69 86.16,525.62 86.8,525.55 87.45,525.47 88.09,525.39 88.73,525.3 89.37,525.21 90.01,525.12 90.65,525.02 91.29,524.92 91.93,524.81 92.57,524.7 93.21,524.59 93.85,524.46 94.49,524.33 95.13,524.2 95.77,524.06 96.41,523.91 97.05,523.75 97.69,523.59 98.33,523.42 98.97,523.24 99.61,523.05 100.25,522.86 100.89,522.65 101.53,522.44 102.18,522.22 102.82,521.98 103.46,521.74 104.1,521.48 104.74,521.22 105.38,520.94 106.02,520.65 106.66,520.34 107.3,520.02 107.94,519.69 108.58,519.34 109.22,518.98 109.86,518.61 110.5,518.21 111.14,517.8 111.78,517.38 112.42,516.93 113.06,516.47 113.7,515.99 114.34,515.49 114.98,514.96 115.62,514.42 116.26,513.86 116.9,513.27 117.55,512.67 118.19,512.04 118.83,511.38 119.47,510.7 120.11,510 120.75,509.28 121.39,508.52 122.03,507.75 122.67,506.94 123.31,506.11 123.95,505.25 124.59,504.37 125.23,503.46 125.87,502.52 126.51,501.56 127.15,500.56 127.79,499.54 128.43,498.49 129.07,497.42 129.71,496.32 130.35,495.19 130.99,494.04 131.63,492.86 132.27,491.66 132.92,490.43 133.56,489.18 134.2,487.91 134.84,486.61 135.48,485.3 136.12,483.96 136.76,482.61 137.4,481.24 138.04,479.85 138.68,478.45 139.32,477.04 139.96,475.62 140.6,474.18 141.24,472.74 141.88,471.29 142.52,469.84 143.16,468.39 143.8,466.93 144.44,465.47 145.08,464.02 145.72,462.57 146.36,461.12 147,459.69 147.65,458.26 148.29,456.84 148.93,455.43 149.57,454.04 150.21,452.66 150.85,451.3 151.49,449.96 152.13,448.64 152.77,447.33 153.41,446.05 154.05,444.79 154.69,443.55 155.33,442.33 155.97,441.14 156.61,439.98 157.25,438.84 157.89,437.73 158.53,436.64 159.17,435.58 159.81,434.55 160.45,433.54 161.09,432.56 161.73,431.61 162.37,430.69 163.02,429.79 163.66,428.92 164.3,428.08 164.94,427.26 165.58,426.47 166.22,425.71 166.86,424.97 167.5,424.26 168.14,423.57 168.78,422.9 169.42,422.26 170.06,421.65 170.7,421.05 171.34,420.48 171.98,419.92 172.62,419.39 173.26,418.88 173.9,418.39 174.54,417.92 175.18,417.47 175.82,417.03 176.46,416.62 177.1,416.21 177.74,415.83 178.39,415.46 179.03,415.11 179.67,414.77 180.31,414.45 180.95,414.14 181.59,413.84 182.23,413.55 182.87,413.28 183.51,413.02 184.15,412.77 184.79,412.53 185.43,412.3 186.07,412.08 186.71,411.88 187.35,411.68 187.99,411.49 188.63,411.3 189.27,411.13 189.91,410.96 190.55,410.81 191.19,410.65 191.83,410.51 192.47,410.37 193.11,410.24 193.76,410.11 194.4,409.99 195.04,409.88 195.68,409.77 196.32,409.66 196.96,409.56 197.6,409.47 198.24,409.38 198.88,409.29 199.52,409.21 200.16,409.13 200.8,409.06" fill="none" stroke="#000" stroke-width="1.85" stroke-dasharray="4.2 2.8"/>
<polyline points="73.36,526.06 74,526.04 74.64,526.02 75.28,526 75.92,525.97 76.56,525.95 77.2,525.92 77.84,525.89 78.48,525.86 79.12,525.83 79.76,525.8 80.4,525.76 81.04,525.72 81.68,525.68 82.32,525.64 82.96,525.59 83.6,525.55 84.24,525.5 84.88,525.44 85.52,525.39 86.16,525.33 86.8,525.26 87.45,525.19 88.09,525.12 88.73,525.05 89.37,524.97 90.01,524.88 90.65,524.79 91.29,524.7 91.93,524.6 92.57,524.49 93.21,524.38 93.85,524.26 94.49,524.14 95.13,524 95.77,523.86 96.41,523.71 97.05,523.56 97.69,523.39 98.33,523.22 98.97,523.03 99.61,522.83 100.25,522.63 100.89,522.41 101.53,522.18 102.18,521.93 102.82,521.67 103.46,521.4 104.1,521.11 104.74,520.81 105.38,520.49 106.02,520.15 106.66,519.8 107.3,519.42 107.94,519.02 108.58,518.61 109.22,518.17 109.86,517.7 110.5,517.22 111.14,516.7 111.78,516.16 112.42,515.6 113.06,515 113.7,514.38 114.34,513.72 114.98,513.03 115.62,512.3 116.26,511.54 116.9,510.75 117.55,509.92 118.19,509.04 118.83,508.13 119.47,507.18 120.11,506.18 120.75,505.14 121.39,504.06 122.03,502.93 122.67,501.76 123.31,500.53 123.95,499.26 124.59,497.94 125.23,496.57 125.87,495.16 126.51,493.69 127.15,492.17 127.79,490.6 128.43,488.99 129.07,487.32 129.71,485.61 130.35,483.85 130.99,482.04 131.63,480.19 132.27,478.29 132.92,476.35 133.56,474.37 134.2,472.36 134.84,470.31 135.48,468.22 136.12,466.11 136.76,463.97 137.4,461.8 138.04,459.62 138.68,457.41 139.32,455.2 139.96,452.97 140.6,450.74 141.24,448.5 141.88,446.26 142.52,444.03 143.16,441.81 143.8,439.6 144.44,437.41 145.08,435.23 145.72,433.08 146.36,430.95 147,428.86 147.65,426.79 148.29,424.76 148.93,422.76 149.57,420.81 150.21,418.89 150.85,417.02 151.49,415.19 152.13,413.41 152.77,411.67 153.41,409.99 154.05,408.35 154.69,406.76 155.33,405.22 155.97,403.73 156.61,402.29 157.25,400.9 157.89,399.56 158.53,398.26 159.17,397.02 159.81,395.82 160.45,394.67 161.09,393.57 161.73,392.51 162.37,391.5 163.02,390.53 163.66,389.6 164.3,388.71 164.94,387.86 165.58,387.04 166.22,386.27 166.86,385.53 167.5,384.82 168.14,384.15 168.78,383.51 169.42,382.9 170.06,382.32 170.7,381.77 171.34,381.25 171.98,380.75 172.62,380.27 173.26,379.82 173.9,379.4 174.54,378.99 175.18,378.61 175.82,378.24 176.46,377.9 177.1,377.57 177.74,377.26 178.39,376.96 179.03,376.68 179.67,376.42 180.31,376.17 180.95,375.93 181.59,375.71 182.23,375.49 182.87,375.29 183.51,375.1 184.15,374.92 184.79,374.75 185.43,374.59 186.07,374.44 186.71,374.3 187.35,374.16 187.99,374.03 188.63,373.91 189.27,373.79 189.91,373.69 190.55,373.58 191.19,373.49 191.83,373.39 192.47,373.31 193.11,373.23 193.76,373.15 194.4,373.07 195.04,373.01 195.68,372.94 196.32,372.88 196.96,372.82 197.6,372.77 198.24,372.71 198.88,372.66 199.52,372.62 200.16,372.57 200.8,372.53" fill="none" stroke="#000" stroke-width="1.85"/>
<polyline points="73.36,522.07 74,522.03 74.64,521.99 75.28,521.96 75.92,521.91 76.56,521.87 77.2,521.82 77.84,521.77 78.48,521.72 79.12,521.66 79.76,521.6 80.4,521.54 81.04,521.47 81.68,521.4 82.32,521.32 82.96,521.24 83.6,521.16 84.24,521.07 84.88,520.97 85.52,520.86 86.16,520.76 86.8,520.64 87.45,520.51 88.09,520.38 88.73,520.24 89.37,520.1 90.01,519.94 90.65,519.77 91.29,519.59 91.93,519.41 92.57,519.21 93.21,519 93.85,518.77 94.49,518.53 95.13,518.28 95.77,518.01 96.41,517.73 97.05,517.43 97.69,517.11 98.33,516.77 98.97,516.41 99.61,516.03 100.25,515.63 100.89,515.21 101.53,514.76 102.18,514.28 102.82,513.78 103.46,513.25 104.1,512.68 104.74,512.09 105.38,511.46 106.02,510.8 106.66,510.1 107.3,509.37 107.94,508.59 108.58,507.77 109.22,506.91 109.86,506.01 110.5,505.05 111.14,504.05 111.78,503 112.42,501.89 113.06,500.73 113.7,499.52 114.34,498.25 114.98,496.92 115.62,495.52 116.26,494.07 116.9,492.55 117.55,490.97 118.19,489.33 118.83,487.61 119.47,485.83 120.11,483.99 120.75,482.07 121.39,480.09 122.03,478.04 122.67,475.92 123.31,473.74 123.95,471.5 124.59,469.19 125.23,466.82 125.87,464.39 126.51,461.9 127.15,459.36 127.79,456.77 128.43,454.14 129.07,451.46 129.71,448.74 130.35,445.99 130.99,443.21 131.63,440.4 132.27,437.57 132.92,434.73 133.56,431.88 134.2,429.02 134.84,426.17 135.48,423.32 136.12,420.48 136.76,417.66 137.4,414.87 138.04,412.1 138.68,409.36 139.32,406.66 139.96,404 140.6,401.38 141.24,398.82 141.88,396.3 142.52,393.84 143.16,391.44 143.8,389.09 144.44,386.81 145.08,384.6 145.72,382.45 146.36,380.36 147,378.34 147.65,376.39 148.29,374.5 148.93,372.69 149.57,370.94 150.21,369.26 150.85,367.64 151.49,366.09 152.13,364.6 152.77,363.17 153.41,361.81 154.05,360.51 154.69,359.26 155.33,358.07 155.97,356.94 156.61,355.86 157.25,354.83 157.89,353.85 158.53,352.92 159.17,352.03 159.81,351.19 160.45,350.39 161.09,349.63 161.73,348.91 162.37,348.23 163.02,347.59 163.66,346.97 164.3,346.39 164.94,345.85 165.58,345.33 166.22,344.84 166.86,344.37 167.5,343.94 168.14,343.52 168.78,343.13 169.42,342.76 170.06,342.41 170.7,342.08 171.34,341.77 171.98,341.48 172.62,341.2 173.26,340.94 173.9,340.7 174.54,340.46 175.18,340.24 175.82,340.04 176.46,339.84 177.1,339.66 177.74,339.49 178.39,339.33 179.03,339.17 179.67,339.03 180.31,338.89 180.95,338.77 181.59,338.65 182.23,338.53 182.87,338.43 183.51,338.32 184.15,338.23 184.79,338.14 185.43,338.06 186.07,337.98 186.71,337.9 187.35,337.83 187.99,337.77 188.63,337.71 189.27,337.65 189.91,337.59 190.55,337.54 191.19,337.49 191.83,337.45 192.47,337.41 193.11,337.36 193.76,337.33 194.4,337.29 195.04,337.26 195.68,337.23 196.32,337.2 196.96,337.17 197.6,337.14 198.24,337.12 198.88,337.09 199.52,337.07 200.16,337.05 200.8,337.03" fill="none" stroke="#000" stroke-width="1.85" stroke-dasharray="4.2 2.8"/>
<circle cx="230.8" cy="426.9" r="2.9" fill="#000"/>
<line x1="213.8" y1="426.9" x2="248" y2="426.9" stroke="#000" stroke-width="1.85"/>
<text x="258.6" y="431" font-size="10.5" fill="#333333" textLength="41" lengthAdjust="spacingAndGlyphs" stroke="#333" stroke-width="0.2">TGX-221</text>
<circle cx="230.8" cy="412.7" r="2.75" fill="#fff" stroke="#000" stroke-width="2.5"/>
<line x1="214.2" y1="412.7" x2="217.9" y2="412.7" stroke="#000" stroke-width="1.85"/>
<line x1="220.8" y1="412.7" x2="224.5" y2="412.7" stroke="#000" stroke-width="1.85"/>
<line x1="229.6" y1="412.7" x2="232" y2="412.7" stroke="#000" stroke-width="1.85"/>
<line x1="235.2" y1="412.7" x2="238.8" y2="412.7" stroke="#000" stroke-width="1.85"/>
<line x1="241.8" y1="412.7" x2="246" y2="412.7" stroke="#000" stroke-width="1.85"/>
<text x="258.6" y="416.8" font-size="10.5" fill="#333333" textLength="73.5" lengthAdjust="spacingAndGlyphs" stroke="#333" stroke-width="0.2">TGX-221 + TPO</text>
<rect x="227.95" y="371.35" width="5.7" height="5.7" fill="#000"/>
<line x1="213.8" y1="374.2" x2="248" y2="374.2" stroke="#000" stroke-width="1.85"/>
<text x="258.6" y="378.3" font-size="10.5" fill="#333333" textLength="34" lengthAdjust="spacingAndGlyphs" stroke="#333" stroke-width="0.2">Vehicle</text>
<rect x="228" y="335.5" width="5.6" height="5.6" fill="#fff" stroke="#000" stroke-width="2.4"/>
<line x1="214.2" y1="338.3" x2="217.9" y2="338.3" stroke="#000" stroke-width="1.85"/>
<line x1="220.8" y1="338.3" x2="224.5" y2="338.3" stroke="#000" stroke-width="1.85"/>
<line x1="229.6" y1="338.3" x2="232" y2="338.3" stroke="#000" stroke-width="1.85"/>
<line x1="235.2" y1="338.3" x2="238.8" y2="338.3" stroke="#000" stroke-width="1.85"/>
<line x1="241.8" y1="338.3" x2="246" y2="338.3" stroke="#000" stroke-width="1.85"/>
<text x="258.6" y="342.4" font-size="10.5" fill="#333333" textLength="20.3" lengthAdjust="spacingAndGlyphs" stroke="#333" stroke-width="0.2">TPO</text>
<line x1="375.6" y1="298.8" x2="375.6" y2="539.4" stroke="#000" stroke-width="1.9"/>
<line x1="374" y1="538.5" x2="536" y2="538.5" stroke="#000" stroke-width="1.9"/>
<line x1="370.8" y1="528.5" x2="375.6" y2="528.5" stroke="#000" stroke-width="1.6"/>
<text x="370" y="532.7" font-size="10.1" fill="#333333" text-anchor="end" textLength="5.62" lengthAdjust="spacing">0</text>
<line x1="370.8" y1="476.57" x2="375.6" y2="476.57" stroke="#000" stroke-width="1.6"/>
<text x="370" y="480.77" font-size="10.1" fill="#333333" text-anchor="end" textLength="10.63" lengthAdjust="spacing">25</text>
<line x1="370.8" y1="424.65" x2="375.6" y2="424.65" stroke="#000" stroke-width="1.6"/>
<text x="370" y="428.85" font-size="10.1" fill="#333333" text-anchor="end" textLength="10.63" lengthAdjust="spacing">50</text>
<line x1="370.8" y1="372.73" x2="375.6" y2="372.73" stroke="#000" stroke-width="1.6"/>
<text x="370" y="376.93" font-size="10.1" fill="#333333" text-anchor="end" textLength="10.63" lengthAdjust="spacing">75</text>
<line x1="370.8" y1="320.8" x2="375.6" y2="320.8" stroke="#000" stroke-width="1.6"/>
<text x="370" y="325" font-size="10.1" fill="#333333" text-anchor="end" textLength="15.65" lengthAdjust="spacing">100</text>
<line x1="375.6" y1="538.5" x2="375.6" y2="543.3" stroke="#000" stroke-width="1.7"/>
<text x="375.9" y="555.1" font-size="10.1" fill="#333333" text-anchor="middle" textLength="16.6" lengthAdjust="spacing">-7.0</text>
<line x1="415.45" y1="538.5" x2="415.45" y2="543.3" stroke="#000" stroke-width="1.7"/>
<text x="415.75" y="555.1" font-size="10.1" fill="#333333" text-anchor="middle" textLength="16.6" lengthAdjust="spacing">-6.5</text>
<line x1="455.3" y1="538.5" x2="455.3" y2="543.3" stroke="#000" stroke-width="1.7"/>
<text x="455.6" y="555.1" font-size="10.1" fill="#333333" text-anchor="middle" textLength="16.6" lengthAdjust="spacing">-6.0</text>
<line x1="495.15" y1="538.5" x2="495.15" y2="543.3" stroke="#000" stroke-width="1.7"/>
<text x="495.45" y="555.1" font-size="10.1" fill="#333333" text-anchor="middle" textLength="16.6" lengthAdjust="spacing">-5.5</text>
<line x1="535" y1="538.5" x2="535" y2="543.3" stroke="#000" stroke-width="1.7"/>
<text x="535.3" y="555.1" font-size="10.1" fill="#333333" text-anchor="middle" textLength="16.6" lengthAdjust="spacing">-5.0</text>
<text x="421" y="571.3" font-size="10.6" fill="#333333" textLength="68.6" lengthAdjust="spacingAndGlyphs">Log[SFLLRN]M</text>
<text transform="translate(346.3,471.8) rotate(-90)" font-size="10.6" fill="#333333" textLength="105" lengthAdjust="spacing">% P-selectin exposure</text>
<text x="327.1" y="295.8" font-size="13.2" fill="#111" stroke="#111" stroke-width="0.35">d</text>
<line x1="407.32" y1="532.5" x2="407.32" y2="534.5" stroke="#7a7a7a" stroke-width="1.6"/>
<line x1="404.12" y1="532.5" x2="410.52" y2="532.5" stroke="#333" stroke-width="1.0"/>
<line x1="404.12" y1="534.5" x2="410.52" y2="534.5" stroke="#333" stroke-width="1.0"/>
<line x1="431.31" y1="530.5" x2="431.31" y2="532.5" stroke="#7a7a7a" stroke-width="1.6"/>
<line x1="428.11" y1="530.5" x2="434.51" y2="530.5" stroke="#333" stroke-width="1.0"/>
<line x1="428.11" y1="532.5" x2="434.51" y2="532.5" stroke="#333" stroke-width="1.0"/>
<line x1="445.34" y1="523.5" x2="445.34" y2="527.5" stroke="#7a7a7a" stroke-width="1.6"/>
<line x1="442.14" y1="523.5" x2="448.54" y2="523.5" stroke="#333" stroke-width="1.0"/>
<line x1="442.14" y1="527.5" x2="448.54" y2="527.5" stroke="#333" stroke-width="1.0"/>
<line x1="455.3" y1="520.5" x2="455.3" y2="527.5" stroke="#7a7a7a" stroke-width="1.6"/>
<line x1="452.1" y1="520.5" x2="458.5" y2="520.5" stroke="#333" stroke-width="1.0"/>
<line x1="452.1" y1="527.5" x2="458.5" y2="527.5" stroke="#333" stroke-width="1.0"/>
<line x1="479.29" y1="448.5" x2="479.29" y2="477.5" stroke="#7a7a7a" stroke-width="1.6"/>
<line x1="476.09" y1="448.5" x2="482.49" y2="448.5" stroke="#333" stroke-width="1.0"/>
<line x1="476.09" y1="477.5" x2="482.49" y2="477.5" stroke="#333" stroke-width="1.0"/>
<line x1="493.33" y1="403.5" x2="493.33" y2="428.5" stroke="#7a7a7a" stroke-width="1.6"/>
<line x1="490.13" y1="403.5" x2="496.53" y2="403.5" stroke="#333" stroke-width="1.0"/>
<line x1="490.13" y1="428.5" x2="496.53" y2="428.5" stroke="#333" stroke-width="1.0"/>
<line x1="511.01" y1="356.5" x2="511.01" y2="382.5" stroke="#7a7a7a" stroke-width="1.6"/>
<line x1="507.81" y1="356.5" x2="514.21" y2="356.5" stroke="#333" stroke-width="1.0"/>
<line x1="507.81" y1="382.5" x2="514.21" y2="382.5" stroke="#333" stroke-width="1.0"/>
<line x1="535" y1="335.5" x2="535" y2="343.5" stroke="#7a7a7a" stroke-width="1.6"/>
<line x1="531.8" y1="335.5" x2="538.2" y2="335.5" stroke="#333" stroke-width="1.0"/>
<line x1="531.8" y1="343.5" x2="538.2" y2="343.5" stroke="#333" stroke-width="1.0"/>
<line x1="407.32" y1="532.5" x2="407.32" y2="534.5" stroke="#7a7a7a" stroke-width="1.6"/>
<line x1="404.12" y1="532.5" x2="410.52" y2="532.5" stroke="#333" stroke-width="1.0"/>
<line x1="404.12" y1="534.5" x2="410.52" y2="534.5" stroke="#333" stroke-width="1.0"/>
<line x1="431.31" y1="530.5" x2="431.31" y2="532.5" stroke="#7a7a7a" stroke-width="1.6"/>
<line x1="428.11" y1="530.5" x2="434.51" y2="530.5" stroke="#333" stroke-width="1.0"/>
<line x1="428.11" y1="532.5" x2="434.51" y2="532.5" stroke="#333" stroke-width="1.0"/>
<line x1="445.34" y1="522.5" x2="445.34" y2="527.5" stroke="#7a7a7a" stroke-width="1.6"/>
<line x1="442.14" y1="522.5" x2="448.54" y2="522.5" stroke="#333" stroke-width="1.0"/>
<line x1="442.14" y1="527.5" x2="448.54" y2="527.5" stroke="#333" stroke-width="1.0"/>
<line x1="455.3" y1="517.5" x2="455.3" y2="523.5" stroke="#7a7a7a" stroke-width="1.6"/>
<line x1="452.1" y1="517.5" x2="458.5" y2="517.5" stroke="#333" stroke-width="1.0"/>
<line x1="452.1" y1="523.5" x2="458.5" y2="523.5" stroke="#333" stroke-width="1.0"/>
<line x1="479.29" y1="442.5" x2="479.29" y2="482.5" stroke="#7a7a7a" stroke-width="1.6"/>
<line x1="476.09" y1="442.5" x2="482.49" y2="442.5" stroke="#333" stroke-width="1.0"/>
<line x1="476.09" y1="482.5" x2="482.49" y2="482.5" stroke="#333" stroke-width="1.0"/>
<line x1="493.33" y1="386.5" x2="493.33" y2="435.5" stroke="#7a7a7a" stroke-width="1.6"/>
<line x1="490.13" y1="386.5" x2="496.53" y2="386.5" stroke="#333" stroke-width="1.0"/>
<line x1="490.13" y1="435.5" x2="496.53" y2="435.5" stroke="#333" stroke-width="1.0"/>
<line x1="511.01" y1="356.5" x2="511.01" y2="382.5" stroke="#7a7a7a" stroke-width="1.6"/>
<line x1="507.81" y1="356.5" x2="514.21" y2="356.5" stroke="#333" stroke-width="1.0"/>
<line x1="507.81" y1="382.5" x2="514.21" y2="382.5" stroke="#333" stroke-width="1.0"/>
<line x1="535" y1="335.5" x2="535" y2="362.5" stroke="#7a7a7a" stroke-width="1.6"/>
<line x1="531.8" y1="335.5" x2="538.2" y2="335.5" stroke="#333" stroke-width="1.0"/>
<line x1="531.8" y1="362.5" x2="538.2" y2="362.5" stroke="#333" stroke-width="1.0"/>
<line x1="407.32" y1="527.5" x2="407.32" y2="529.5" stroke="#7a7a7a" stroke-width="1.6"/>
<line x1="404.12" y1="527.5" x2="410.52" y2="527.5" stroke="#333" stroke-width="1.0"/>
<line x1="404.12" y1="529.5" x2="410.52" y2="529.5" stroke="#333" stroke-width="1.0"/>
<line x1="431.31" y1="526.5" x2="431.31" y2="528.5" stroke="#7a7a7a" stroke-width="1.6"/>
<line x1="428.11" y1="526.5" x2="434.51" y2="526.5" stroke="#333" stroke-width="1.0"/>
<line x1="428.11" y1="528.5" x2="434.51" y2="528.5" stroke="#333" stroke-width="1.0"/>
<line x1="445.34" y1="521.5" x2="445.34" y2="525.5" stroke="#7a7a7a" stroke-width="1.6"/>
<line x1="442.14" y1="521.5" x2="448.54" y2="521.5" stroke="#333" stroke-width="1.0"/>
<line x1="442.14" y1="525.5" x2="448.54" y2="525.5" stroke="#333" stroke-width="1.0"/>
<line x1="455.3" y1="512.5" x2="455.3" y2="521.5" stroke="#7a7a7a" stroke-width="1.6"/>
<line x1="452.1" y1="512.5" x2="458.5" y2="512.5" stroke="#333" stroke-width="1.0"/>
<line x1="452.1" y1="521.5" x2="458.5" y2="521.5" stroke="#333" stroke-width="1.0"/>
<line x1="479.29" y1="426.5" x2="479.29" y2="451.5" stroke="#7a7a7a" stroke-width="1.6"/>
<line x1="476.09" y1="426.5" x2="482.49" y2="426.5" stroke="#333" stroke-width="1.0"/>
<line x1="476.09" y1="451.5" x2="482.49" y2="451.5" stroke="#333" stroke-width="1.0"/>
<line x1="493.33" y1="391.5" x2="493.33" y2="416.5" stroke="#7a7a7a" stroke-width="1.6"/>
<line x1="490.13" y1="391.5" x2="496.53" y2="391.5" stroke="#333" stroke-width="1.0"/>
<line x1="490.13" y1="416.5" x2="496.53" y2="416.5" stroke="#333" stroke-width="1.0"/>
<line x1="511.01" y1="348.5" x2="511.01" y2="364.5" stroke="#7a7a7a" stroke-width="1.6"/>
<line x1="507.81" y1="348.5" x2="514.21" y2="348.5" stroke="#333" stroke-width="1.0"/>
<line x1="507.81" y1="364.5" x2="514.21" y2="364.5" stroke="#333" stroke-width="1.0"/>
<line x1="535" y1="317.5" x2="535" y2="329.5" stroke="#7a7a7a" stroke-width="1.6"/>
<line x1="531.8" y1="317.5" x2="538.2" y2="317.5" stroke="#333" stroke-width="1.0"/>
<line x1="531.8" y1="329.5" x2="538.2" y2="329.5" stroke="#333" stroke-width="1.0"/>
<line x1="407.32" y1="527.5" x2="407.32" y2="529.5" stroke="#7a7a7a" stroke-width="1.6"/>
<line x1="404.12" y1="527.5" x2="410.52" y2="527.5" stroke="#333" stroke-width="1.0"/>
<line x1="404.12" y1="529.5" x2="410.52" y2="529.5" stroke="#333" stroke-width="1.0"/>
<line x1="431.31" y1="526.5" x2="431.31" y2="528.5" stroke="#7a7a7a" stroke-width="1.6"/>
<line x1="428.11" y1="526.5" x2="434.51" y2="526.5" stroke="#333" stroke-width="1.0"/>
<line x1="428.11" y1="528.5" x2="434.51" y2="528.5" stroke="#333" stroke-width="1.0"/>
<line x1="445.34" y1="521.5" x2="445.34" y2="525.5" stroke="#7a7a7a" stroke-width="1.6"/>
<line x1="442.14" y1="521.5" x2="448.54" y2="521.5" stroke="#333" stroke-width="1.0"/>
<line x1="442.14" y1="525.5" x2="448.54" y2="525.5" stroke="#333" stroke-width="1.0"/>
<line x1="455.3" y1="502.5" x2="455.3" y2="520.5" stroke="#7a7a7a" stroke-width="1.6"/>
<line x1="452.1" y1="502.5" x2="458.5" y2="502.5" stroke="#333" stroke-width="1.0"/>
<line x1="452.1" y1="520.5" x2="458.5" y2="520.5" stroke="#333" stroke-width="1.0"/>
<line x1="479.29" y1="409.5" x2="479.29" y2="441.5" stroke="#7a7a7a" stroke-width="1.6"/>
<line x1="476.09" y1="409.5" x2="482.49" y2="409.5" stroke="#333" stroke-width="1.0"/>
<line x1="476.09" y1="441.5" x2="482.49" y2="441.5" stroke="#333" stroke-width="1.0"/>
<line x1="493.33" y1="368.5" x2="493.33" y2="402.5" stroke="#7a7a7a" stroke-width="1.6"/>
<line x1="490.13" y1="368.5" x2="496.53" y2="368.5" stroke="#333" stroke-width="1.0"/>
<line x1="490.13" y1="402.5" x2="496.53" y2="402.5" stroke="#333" stroke-width="1.0"/>
<line x1="511.01" y1="339.5" x2="511.01" y2="356.5" stroke="#7a7a7a" stroke-width="1.6"/>
<line x1="507.81" y1="339.5" x2="514.21" y2="339.5" stroke="#333" stroke-width="1.0"/>
<line x1="507.81" y1="356.5" x2="514.21" y2="356.5" stroke="#333" stroke-width="1.0"/>
<line x1="535" y1="317.5" x2="535" y2="329.5" stroke="#7a7a7a" stroke-width="1.6"/>
<line x1="531.8" y1="317.5" x2="538.2" y2="317.5" stroke="#333" stroke-width="1.0"/>
<line x1="531.8" y1="329.5" x2="538.2" y2="329.5" stroke="#333" stroke-width="1.0"/>
<circle cx="407.32" cy="533.9" r="2.75" fill="#fff" stroke="#000" stroke-width="2.5"/>
<circle cx="431.31" cy="531.62" r="2.75" fill="#fff" stroke="#000" stroke-width="2.5"/>
<circle cx="445.34" cy="524.97" r="2.75" fill="#fff" stroke="#000" stroke-width="2.5"/>
<circle cx="455.3" cy="520.5" r="2.75" fill="#fff" stroke="#000" stroke-width="2.5"/>
<circle cx="479.29" cy="462.66" r="2.75" fill="#fff" stroke="#000" stroke-width="2.5"/>
<circle cx="493.33" cy="410.94" r="2.75" fill="#fff" stroke="#000" stroke-width="2.5"/>
<circle cx="511.01" cy="369.4" r="2.75" fill="#fff" stroke="#000" stroke-width="2.5"/>
<circle cx="535" cy="349.25" r="2.75" fill="#fff" stroke="#000" stroke-width="2.5"/>
<rect x="404.52" y="525.28" width="5.6" height="5.6" fill="#fff" stroke="#000" stroke-width="2.4"/>
<rect x="428.51" y="524.66" width="5.6" height="5.6" fill="#fff" stroke="#000" stroke-width="2.4"/>
<rect x="442.54" y="520.51" width="5.6" height="5.6" fill="#fff" stroke="#000" stroke-width="2.4"/>
<rect x="452.5" y="508.67" width="5.6" height="5.6" fill="#fff" stroke="#000" stroke-width="2.4"/>
<rect x="476.49" y="422.27" width="5.6" height="5.6" fill="#fff" stroke="#000" stroke-width="2.4"/>
<rect x="490.53" y="382.59" width="5.6" height="5.6" fill="#fff" stroke="#000" stroke-width="2.4"/>
<rect x="508.21" y="345.42" width="5.6" height="5.6" fill="#fff" stroke="#000" stroke-width="2.4"/>
<rect x="532.2" y="320.49" width="5.6" height="5.6" fill="#fff" stroke="#000" stroke-width="2.4"/>
<circle cx="407.32" cy="533.9" r="2.9" fill="#000"/>
<circle cx="431.31" cy="531.62" r="2.9" fill="#000"/>
<circle cx="445.34" cy="525.59" r="2.9" fill="#000"/>
<circle cx="455.3" cy="523.93" r="2.9" fill="#000"/>
<circle cx="479.29" cy="463.07" r="2.9" fill="#000"/>
<circle cx="493.33" cy="416.34" r="2.9" fill="#000"/>
<circle cx="511.01" cy="369.4" r="2.9" fill="#000"/>
<circle cx="535" cy="339.7" r="2.9" fill="#000"/>
<rect x="404.47" y="525.65" width="5.7" height="5.7" fill="#000"/>
<rect x="428.46" y="524.61" width="5.7" height="5.7" fill="#000"/>
<rect x="442.49" y="520.46" width="5.7" height="5.7" fill="#000"/>
<rect x="452.45" y="514.23" width="5.7" height="5.7" fill="#000"/>
<rect x="476.44" y="436.34" width="5.7" height="5.7" fill="#000"/>
<rect x="490.48" y="401.03" width="5.7" height="5.7" fill="#000"/>
<rect x="508.16" y="353.67" width="5.7" height="5.7" fill="#000"/>
<rect x="532.15" y="320.44" width="5.7" height="5.7" fill="#000"/>
<polyline points="407.32,535.97 407.96,535.94 408.6,535.91 409.24,535.87 409.88,535.84 410.52,535.8 411.17,535.76 411.81,535.72 412.45,535.68 413.09,535.64 413.73,535.59 414.37,535.54 415.02,535.49 415.66,535.44 416.3,535.39 416.94,535.33 417.58,535.27 418.22,535.21 418.87,535.14 419.51,535.07 420.15,535 420.79,534.92 421.43,534.84 422.07,534.76 422.71,534.68 423.36,534.59 424,534.49 424.64,534.39 425.28,534.29 425.92,534.18 426.56,534.07 427.21,533.95 427.85,533.83 428.49,533.7 429.13,533.57 429.77,533.43 430.41,533.28 431.06,533.13 431.7,532.97 432.34,532.8 432.98,532.63 433.62,532.44 434.26,532.25 434.91,532.05 435.55,531.84 436.19,531.63 436.83,531.4 437.47,531.16 438.11,530.92 438.76,530.66 439.4,530.39 440.04,530.11 440.68,529.81 441.32,529.51 441.96,529.19 442.61,528.85 443.25,528.51 443.89,528.14 444.53,527.76 445.17,527.37 445.81,526.96 446.46,526.53 447.1,526.09 447.74,525.62 448.38,525.14 449.02,524.63 449.66,524.11 450.3,523.56 450.95,523 451.59,522.41 452.23,521.79 452.87,521.15 453.51,520.49 454.15,519.8 454.8,519.09 455.44,518.34 456.08,517.57 456.72,516.77 457.36,515.94 458,515.08 458.65,514.18 459.29,513.26 459.93,512.3 460.57,511.31 461.21,510.28 461.85,509.22 462.5,508.13 463.14,506.99 463.78,505.82 464.42,504.61 465.06,503.37 465.7,502.08 466.35,500.76 466.99,499.39 467.63,497.99 468.27,496.55 468.91,495.06 469.55,493.54 470.2,491.97 470.84,490.37 471.48,488.72 472.12,487.04 472.76,485.31 473.4,483.55 474.05,481.74 474.69,479.9 475.33,478.02 475.97,476.11 476.61,474.16 477.25,472.18 477.9,470.16 478.54,468.11 479.18,466.03 479.82,463.92 480.46,461.79 481.1,459.63 481.74,457.44 482.39,455.23 483.03,453.01 483.67,450.76 484.31,448.5 484.95,446.23 485.59,443.95 486.24,441.65 486.88,439.35 487.52,437.05 488.16,434.74 488.8,432.44 489.44,430.14 490.09,427.84 490.73,425.55 491.37,423.27 492.01,421.01 492.65,418.76 493.29,416.52 493.94,414.31 494.58,412.11 495.22,409.94 495.86,407.79 496.5,405.67 497.14,403.58 497.79,401.51 498.43,399.48 499.07,397.48 499.71,395.51 500.35,393.58 500.99,391.69 501.64,389.83 502.28,388.01 502.92,386.23 503.56,384.48 504.2,382.78 504.84,381.12 505.49,379.49 506.13,377.91 506.77,376.36 507.41,374.86 508.05,373.4 508.69,371.98 509.33,370.59 509.98,369.25 510.62,367.95 511.26,366.68 511.9,365.46 512.54,364.27 513.18,363.12 513.83,362 514.47,360.93 515.11,359.88 515.75,358.88 516.39,357.9 517.03,356.96 517.68,356.06 518.32,355.18 518.96,354.33 519.6,353.52 520.24,352.73 520.88,351.98 521.53,351.25 522.17,350.55 522.81,349.87 523.45,349.22 524.09,348.6 524.73,348 525.38,347.42 526.02,346.86 526.66,346.33 527.3,345.81 527.94,345.32 528.58,344.85 529.23,344.39 529.87,343.96 530.51,343.54 531.15,343.14 531.79,342.75 532.43,342.38 533.08,342.03 533.72,341.69 534.36,341.36 535,341.05" fill="none" stroke="#000" stroke-width="1.85"/>
<polyline points="407.32,533.26 407.96,533.24 408.6,533.23 409.24,533.21 409.88,533.18 410.52,533.16 411.17,533.14 411.81,533.11 412.45,533.09 413.09,533.06 413.73,533.03 414.37,533 415.02,532.97 415.66,532.93 416.3,532.9 416.94,532.86 417.58,532.82 418.22,532.78 418.87,532.74 419.51,532.69 420.15,532.64 420.79,532.59 421.43,532.54 422.07,532.48 422.71,532.42 423.36,532.36 424,532.3 424.64,532.23 425.28,532.15 425.92,532.08 426.56,532 427.21,531.91 427.85,531.82 428.49,531.73 429.13,531.63 429.77,531.53 430.41,531.42 431.06,531.3 431.7,531.18 432.34,531.06 432.98,530.92 433.62,530.78 434.26,530.64 434.91,530.48 435.55,530.32 436.19,530.15 436.83,529.97 437.47,529.78 438.11,529.58 438.76,529.37 439.4,529.15 440.04,528.92 440.68,528.68 441.32,528.42 441.96,528.16 442.61,527.88 443.25,527.58 443.89,527.27 444.53,526.95 445.17,526.61 445.81,526.25 446.46,525.88 447.1,525.49 447.74,525.08 448.38,524.64 449.02,524.19 449.66,523.72 450.3,523.23 450.95,522.71 451.59,522.16 452.23,521.6 452.87,521 453.51,520.38 454.15,519.73 454.8,519.05 455.44,518.34 456.08,517.6 456.72,516.83 457.36,516.03 458,515.19 458.65,514.31 459.29,513.4 459.93,512.45 460.57,511.46 461.21,510.43 461.85,509.36 462.5,508.25 463.14,507.09 463.78,505.89 464.42,504.65 465.06,503.37 465.7,502.03 466.35,500.65 466.99,499.23 467.63,497.75 468.27,496.23 468.91,494.66 469.55,493.05 470.2,491.38 470.84,489.67 471.48,487.91 472.12,486.1 472.76,484.25 473.4,482.35 474.05,480.4 474.69,478.41 475.33,476.38 475.97,474.31 476.61,472.2 477.25,470.05 477.9,467.86 478.54,465.65 479.18,463.4 479.82,461.12 480.46,458.81 481.1,456.48 481.74,454.13 482.39,451.76 483.03,449.38 483.67,446.98 484.31,444.57 484.95,442.16 485.59,439.75 486.24,437.33 486.88,434.93 487.52,432.52 488.16,430.13 488.8,427.75 489.44,425.39 490.09,423.04 490.73,420.72 491.37,418.42 492.01,416.16 492.65,413.92 493.29,411.71 493.94,409.54 494.58,407.4 495.22,405.3 495.86,403.24 496.5,401.23 497.14,399.25 497.79,397.32 498.43,395.44 499.07,393.6 499.71,391.81 500.35,390.07 500.99,388.37 501.64,386.72 502.28,385.12 502.92,383.57 503.56,382.06 504.2,380.61 504.84,379.2 505.49,377.83 506.13,376.52 506.77,375.24 507.41,374.02 508.05,372.84 508.69,371.7 509.33,370.6 509.98,369.54 510.62,368.53 511.26,367.55 511.9,366.62 512.54,365.72 513.18,364.85 513.83,364.02 514.47,363.23 515.11,362.47 515.75,361.74 516.39,361.04 517.03,360.37 517.68,359.73 518.32,359.12 518.96,358.54 519.6,357.98 520.24,357.44 520.88,356.93 521.53,356.45 522.17,355.98 522.81,355.54 523.45,355.11 524.09,354.71 524.73,354.32 525.38,353.95 526.02,353.6 526.66,353.27 527.3,352.95 527.94,352.65 528.58,352.36 529.23,352.08 529.87,351.82 530.51,351.57 531.15,351.33 531.79,351.11 532.43,350.89 533.08,350.68 533.72,350.49 534.36,350.3 535,350.13" fill="none" stroke="#000" stroke-width="1.85" stroke-dasharray="4.2 2.8"/>
<polyline points="407.32,534.96 407.96,534.9 408.6,534.84 409.24,534.77 409.88,534.7 410.52,534.63 411.17,534.56 411.81,534.49 412.45,534.41 413.09,534.32 413.73,534.24 414.37,534.15 415.02,534.06 415.66,533.96 416.3,533.86 416.94,533.76 417.58,533.65 418.22,533.53 418.87,533.41 419.51,533.29 420.15,533.16 420.79,533.03 421.43,532.89 422.07,532.75 422.71,532.6 423.36,532.44 424,532.28 424.64,532.11 425.28,531.93 425.92,531.75 426.56,531.56 427.21,531.36 427.85,531.15 428.49,530.94 429.13,530.72 429.77,530.48 430.41,530.24 431.06,529.99 431.7,529.73 432.34,529.46 432.98,529.18 433.62,528.88 434.26,528.58 434.91,528.26 435.55,527.94 436.19,527.59 436.83,527.24 437.47,526.87 438.11,526.49 438.76,526.09 439.4,525.68 440.04,525.25 440.68,524.81 441.32,524.34 441.96,523.87 442.61,523.37 443.25,522.86 443.89,522.32 444.53,521.77 445.17,521.2 445.81,520.6 446.46,519.99 447.1,519.35 447.74,518.69 448.38,518.01 449.02,517.3 449.66,516.57 450.3,515.81 450.95,515.03 451.59,514.22 452.23,513.38 452.87,512.52 453.51,511.63 454.15,510.71 454.8,509.76 455.44,508.78 456.08,507.76 456.72,506.72 457.36,505.65 458,504.54 458.65,503.4 459.29,502.22 459.93,501.02 460.57,499.78 461.21,498.5 461.85,497.19 462.5,495.84 463.14,494.46 463.78,493.04 464.42,491.59 465.06,490.1 465.7,488.57 466.35,487.01 466.99,485.42 467.63,483.78 468.27,482.12 468.91,480.41 469.55,478.67 470.2,476.9 470.84,475.1 471.48,473.26 472.12,471.39 472.76,469.48 473.4,467.55 474.05,465.58 474.69,463.59 475.33,461.57 475.97,459.52 476.61,457.45 477.25,455.36 477.9,453.24 478.54,451.1 479.18,448.94 479.82,446.76 480.46,444.56 481.1,442.36 481.74,440.13 482.39,437.9 483.03,435.66 483.67,433.41 484.31,431.15 484.95,428.9 485.59,426.63 486.24,424.37 486.88,422.12 487.52,419.86 488.16,417.61 488.8,415.37 489.44,413.14 490.09,410.93 490.73,408.72 491.37,406.53 492.01,404.36 492.65,402.2 493.29,400.07 493.94,397.95 494.58,395.86 495.22,393.8 495.86,391.75 496.5,389.74 497.14,387.76 497.79,385.8 498.43,383.87 499.07,381.98 499.71,380.11 500.35,378.28 500.99,376.48 501.64,374.72 502.28,372.99 502.92,371.3 503.56,369.64 504.2,368.01 504.84,366.43 505.49,364.87 506.13,363.36 506.77,361.88 507.41,360.43 508.05,359.02 508.69,357.65 509.33,356.31 509.98,355.01 510.62,353.74 511.26,352.51 511.9,351.31 512.54,350.14 513.18,349.01 513.83,347.91 514.47,346.85 515.11,345.81 515.75,344.81 516.39,343.83 517.03,342.89 517.68,341.98 518.32,341.09 518.96,340.23 519.6,339.4 520.24,338.6 520.88,337.83 521.53,337.08 522.17,336.35 522.81,335.65 523.45,334.97 524.09,334.32 524.73,333.69 525.38,333.08 526.02,332.49 526.66,331.92 527.3,331.37 527.94,330.84 528.58,330.33 529.23,329.84 529.87,329.37 530.51,328.91 531.15,328.47 531.79,328.05 532.43,327.64 533.08,327.24 533.72,326.86 534.36,326.5 535,326.15" fill="none" stroke="#000" stroke-width="1.85"/>
<polyline points="407.32,533.23 407.96,533.19 408.6,533.14 409.24,533.1 409.88,533.05 410.52,533 411.17,532.94 411.81,532.88 412.45,532.82 413.09,532.76 413.73,532.69 414.37,532.63 415.02,532.55 415.66,532.48 416.3,532.4 416.94,532.31 417.58,532.23 418.22,532.13 418.87,532.04 419.51,531.94 420.15,531.83 420.79,531.72 421.43,531.6 422.07,531.48 422.71,531.35 423.36,531.22 424,531.08 424.64,530.93 425.28,530.77 425.92,530.61 426.56,530.44 427.21,530.27 427.85,530.08 428.49,529.88 429.13,529.68 429.77,529.47 430.41,529.24 431.06,529.01 431.7,528.76 432.34,528.5 432.98,528.24 433.62,527.95 434.26,527.66 434.91,527.35 435.55,527.03 436.19,526.69 436.83,526.34 437.47,525.97 438.11,525.58 438.76,525.18 439.4,524.76 440.04,524.32 440.68,523.86 441.32,523.38 441.96,522.88 442.61,522.35 443.25,521.81 443.89,521.24 444.53,520.64 445.17,520.02 445.81,519.37 446.46,518.7 447.1,517.99 447.74,517.26 448.38,516.5 449.02,515.71 449.66,514.88 450.3,514.02 450.95,513.13 451.59,512.2 452.23,511.24 452.87,510.23 453.51,509.19 454.15,508.12 454.8,507 455.44,505.84 456.08,504.64 456.72,503.4 457.36,502.11 458,500.78 458.65,499.41 459.29,497.99 459.93,496.52 460.57,495.01 461.21,493.45 461.85,491.85 462.5,490.2 463.14,488.5 463.78,486.76 464.42,484.97 465.06,483.13 465.7,481.25 466.35,479.32 466.99,477.34 467.63,475.32 468.27,473.26 468.91,471.16 469.55,469.02 470.2,466.83 470.84,464.61 471.48,462.35 472.12,460.06 472.76,457.73 473.4,455.38 474.05,452.99 474.69,450.58 475.33,448.15 475.97,445.69 476.61,443.22 477.25,440.73 477.9,438.23 478.54,435.71 479.18,433.19 479.82,430.67 480.46,428.14 481.1,425.62 481.74,423.1 482.39,420.58 483.03,418.08 483.67,415.59 484.31,413.12 484.95,410.66 485.59,408.22 486.24,405.81 486.88,403.43 487.52,401.07 488.16,398.74 488.8,396.45 489.44,394.19 490.09,391.97 490.73,389.78 491.37,387.63 492.01,385.53 492.65,383.47 493.29,381.45 493.94,379.47 494.58,377.54 495.22,375.65 495.86,373.81 496.5,372.02 497.14,370.27 497.79,368.58 498.43,366.92 499.07,365.32 499.71,363.76 500.35,362.25 500.99,360.78 501.64,359.36 502.28,357.98 502.92,356.65 503.56,355.36 504.2,354.12 504.84,352.92 505.49,351.75 506.13,350.63 506.77,349.55 507.41,348.51 508.05,347.51 508.69,346.54 509.33,345.61 509.98,344.72 510.62,343.86 511.26,343.03 511.9,342.24 512.54,341.47 513.18,340.74 513.83,340.04 514.47,339.36 515.11,338.71 515.75,338.09 516.39,337.49 517.03,336.92 517.68,336.37 518.32,335.85 518.96,335.35 519.6,334.87 520.24,334.41 520.88,333.96 521.53,333.54 522.17,333.14 522.81,332.75 523.45,332.38 524.09,332.03 524.73,331.69 525.38,331.37 526.02,331.06 526.66,330.76 527.3,330.48 527.94,330.21 528.58,329.95 529.23,329.71 529.87,329.47 530.51,329.25 531.15,329.03 531.79,328.83 532.43,328.63 533.08,328.45 533.72,328.27 534.36,328.1 535,327.94" fill="none" stroke="#000" stroke-width="1.85" stroke-dasharray="4.2 2.8"/>
<circle cx="575" cy="340.3" r="2.9" fill="#000"/>
<line x1="558" y1="340.3" x2="592.2" y2="340.3" stroke="#000" stroke-width="1.85"/>
<text x="610.4" y="344.75" font-size="10.5" fill="#333333" textLength="41" lengthAdjust="spacingAndGlyphs" stroke="#333" stroke-width="0.2">TGX-221</text>
<circle cx="575" cy="355.7" r="2.75" fill="#fff" stroke="#000" stroke-width="2.5"/>
<line x1="558.4" y1="355.7" x2="562.1" y2="355.7" stroke="#000" stroke-width="1.85"/>
<line x1="565" y1="355.7" x2="568.7" y2="355.7" stroke="#000" stroke-width="1.85"/>
<line x1="573.8" y1="355.7" x2="576.2" y2="355.7" stroke="#000" stroke-width="1.85"/>
<line x1="579.4" y1="355.7" x2="583" y2="355.7" stroke="#000" stroke-width="1.85"/>
<line x1="586" y1="355.7" x2="590.2" y2="355.7" stroke="#000" stroke-width="1.85"/>
<text x="610.4" y="360.15" font-size="10.5" fill="#333333" textLength="73.5" lengthAdjust="spacingAndGlyphs" stroke="#333" stroke-width="0.2">TGX-221 + TPO</text>
<rect x="572.15" y="306.35" width="5.7" height="5.7" fill="#000"/>
<line x1="558" y1="309.2" x2="592.2" y2="309.2" stroke="#000" stroke-width="1.85"/>
<text x="610.4" y="313.65" font-size="10.5" fill="#333333" textLength="34" lengthAdjust="spacingAndGlyphs" stroke="#333" stroke-width="0.2">Vehicle</text>
<rect x="572.2" y="322.4" width="5.6" height="5.6" fill="#fff" stroke="#000" stroke-width="2.4"/>
<line x1="558.4" y1="325.2" x2="562.1" y2="325.2" stroke="#000" stroke-width="1.85"/>
<line x1="565" y1="325.2" x2="568.7" y2="325.2" stroke="#000" stroke-width="1.85"/>
<line x1="573.8" y1="325.2" x2="576.2" y2="325.2" stroke="#000" stroke-width="1.85"/>
<line x1="579.4" y1="325.2" x2="583" y2="325.2" stroke="#000" stroke-width="1.85"/>
<line x1="586" y1="325.2" x2="590.2" y2="325.2" stroke="#000" stroke-width="1.85"/>
<text x="610.4" y="329.65" font-size="10.5" fill="#333333" textLength="20.3" lengthAdjust="spacingAndGlyphs" stroke="#333" stroke-width="0.2">TPO</text>
</svg>
</body></html>
